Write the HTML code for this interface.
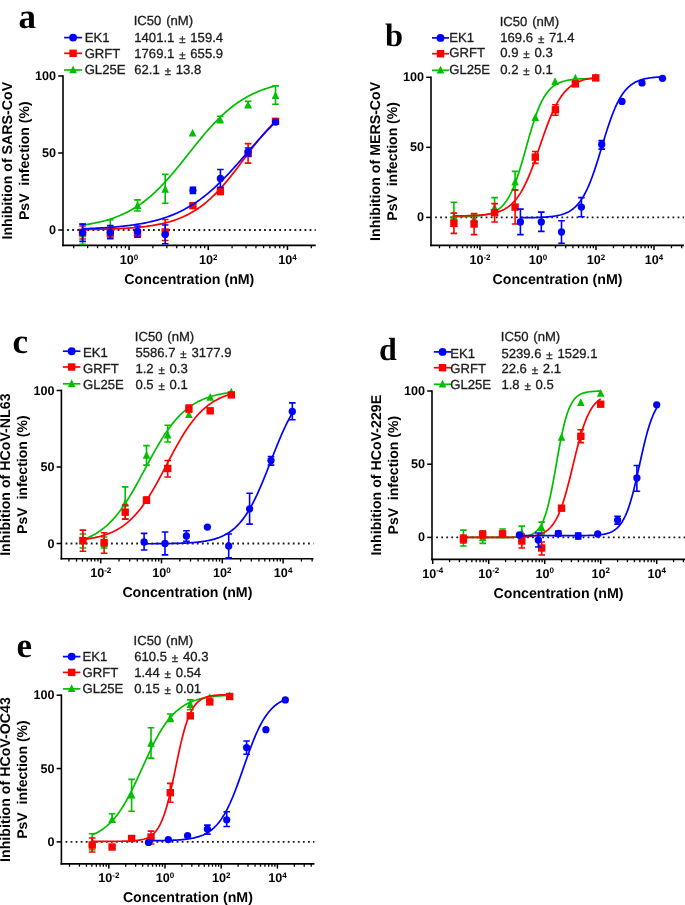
<!DOCTYPE html>
<html><head><meta charset="utf-8"><style>
html,body{margin:0;padding:0;background:#fff;}
text{text-rendering:geometricPrecision;}
svg{display:block;will-change:transform;}
.tk{font-family:"Liberation Sans", sans-serif;font-weight:bold;font-size:12.6px;fill:#000;}
.sup{font-size:8px;}
.yl{font-size:14.15px;}
.ttl{font-family:"Liberation Sans", sans-serif;font-weight:bold;font-size:14.2px;fill:#000;}
.lg{font-family:"Liberation Sans", sans-serif;font-size:13.1px;fill:#1a1a1a;stroke:#1a1a1a;stroke-width:0.3px;word-spacing:1.2px;}
.pm{font-size:11.5px;}
.let{font-family:"Liberation Serif", serif;font-weight:bold;fill:#000;}
</style></head><body>
<svg width="685" height="905" viewBox="0 0 685 905">
<line x1="63" y1="75.2" x2="63" y2="246.2" stroke="#000" stroke-width="1.6"/>
<line x1="58.2" y1="230" x2="63" y2="230" stroke="#000" stroke-width="1.5"/>
<text x="56" y="234" text-anchor="end" class="tk">0</text>
<line x1="58.2" y1="153" x2="63" y2="153" stroke="#000" stroke-width="1.5"/>
<text x="56" y="157" text-anchor="end" class="tk">50</text>
<line x1="58.2" y1="76" x2="63" y2="76" stroke="#000" stroke-width="1.5"/>
<text x="56" y="80" text-anchor="end" class="tk">100</text>
<line x1="62.2" y1="245.4" x2="315.7" y2="245.4" stroke="#000" stroke-width="1.6"/>
<line x1="73.69" y1="245.4" x2="73.69" y2="248.2" stroke="#000" stroke-width="1.3"/>
<line x1="87.64" y1="245.4" x2="87.64" y2="248.2" stroke="#000" stroke-width="1.3"/>
<line x1="97.53" y1="245.4" x2="97.53" y2="248.2" stroke="#000" stroke-width="1.3"/>
<line x1="105.21" y1="245.4" x2="105.21" y2="248.2" stroke="#000" stroke-width="1.3"/>
<line x1="111.48" y1="245.4" x2="111.48" y2="248.2" stroke="#000" stroke-width="1.3"/>
<line x1="116.78" y1="245.4" x2="116.78" y2="248.2" stroke="#000" stroke-width="1.3"/>
<line x1="121.37" y1="245.4" x2="121.37" y2="248.2" stroke="#000" stroke-width="1.3"/>
<line x1="125.43" y1="245.4" x2="125.43" y2="248.2" stroke="#000" stroke-width="1.3"/>
<line x1="129.05" y1="245.4" x2="129.05" y2="250" stroke="#000" stroke-width="1.5"/>
<text x="129.05" y="263.6" text-anchor="middle" class="tk">10<tspan class="sup" dy="-4.1">0</tspan></text>
<line x1="152.89" y1="245.4" x2="152.89" y2="248.2" stroke="#000" stroke-width="1.3"/>
<line x1="166.84" y1="245.4" x2="166.84" y2="248.2" stroke="#000" stroke-width="1.3"/>
<line x1="176.73" y1="245.4" x2="176.73" y2="248.2" stroke="#000" stroke-width="1.3"/>
<line x1="184.41" y1="245.4" x2="184.41" y2="248.2" stroke="#000" stroke-width="1.3"/>
<line x1="190.68" y1="245.4" x2="190.68" y2="248.2" stroke="#000" stroke-width="1.3"/>
<line x1="195.98" y1="245.4" x2="195.98" y2="248.2" stroke="#000" stroke-width="1.3"/>
<line x1="200.57" y1="245.4" x2="200.57" y2="248.2" stroke="#000" stroke-width="1.3"/>
<line x1="204.63" y1="245.4" x2="204.63" y2="248.2" stroke="#000" stroke-width="1.3"/>
<line x1="208.25" y1="245.4" x2="208.25" y2="250" stroke="#000" stroke-width="1.5"/>
<text x="208.25" y="263.6" text-anchor="middle" class="tk">10<tspan class="sup" dy="-4.1">2</tspan></text>
<line x1="232.09" y1="245.4" x2="232.09" y2="248.2" stroke="#000" stroke-width="1.3"/>
<line x1="246.04" y1="245.4" x2="246.04" y2="248.2" stroke="#000" stroke-width="1.3"/>
<line x1="255.93" y1="245.4" x2="255.93" y2="248.2" stroke="#000" stroke-width="1.3"/>
<line x1="263.61" y1="245.4" x2="263.61" y2="248.2" stroke="#000" stroke-width="1.3"/>
<line x1="269.88" y1="245.4" x2="269.88" y2="248.2" stroke="#000" stroke-width="1.3"/>
<line x1="275.18" y1="245.4" x2="275.18" y2="248.2" stroke="#000" stroke-width="1.3"/>
<line x1="279.77" y1="245.4" x2="279.77" y2="248.2" stroke="#000" stroke-width="1.3"/>
<line x1="283.83" y1="245.4" x2="283.83" y2="248.2" stroke="#000" stroke-width="1.3"/>
<line x1="287.45" y1="245.4" x2="287.45" y2="250" stroke="#000" stroke-width="1.5"/>
<text x="287.45" y="263.6" text-anchor="middle" class="tk">10<tspan class="sup" dy="-4.1">4</tspan></text>
<line x1="311.29" y1="245.4" x2="311.29" y2="248.2" stroke="#000" stroke-width="1.3"/>
<line x1="67.15" y1="230" x2="315.7" y2="230" stroke="#1a1a1a" stroke-width="1.8" stroke-dasharray="1.8 3.25"/>
<text x="189.35" y="283.9" text-anchor="middle" class="ttl">Concentration (nM)</text>
<text transform="translate(11.9,160.7) rotate(-90)" text-anchor="middle" class="ttl yl">Inhibition of SARS-CoV</text>
<text transform="translate(28.9,160.7) rotate(-90)" text-anchor="middle" class="ttl yl" style="word-spacing:0px;font-size:14.05px">PsV&#160; infection (%)</text>
<text x="18.6" y="28.1" class="let" font-size="35">a</text>
<line x1="64.1" y1="37.6" x2="82.1" y2="37.6" stroke="#0000ff" stroke-width="1.7"/>
<circle cx="73.1" cy="37.6" r="3.94" fill="#0000ff"/>
<text x="84.7" y="41.7" class="lg">EK1</text>
<text x="134.3" y="41.7" class="lg">1401.1 <tspan class="pm" dy="1.2">±</tspan><tspan dy="-1.2"> 159.4</tspan></text>
<line x1="64.1" y1="53.3" x2="82.1" y2="53.3" stroke="#ff0000" stroke-width="1.7"/>
<rect x="69.4" y="49.6" width="7.4" height="7.4" fill="#ff0000"/>
<text x="84.7" y="57.5" class="lg">GRFT</text>
<text x="134.3" y="57.5" class="lg">1769.1 <tspan class="pm" dy="1.2">±</tspan><tspan dy="-1.2"> 655.9</tspan></text>
<line x1="64.1" y1="70" x2="82.1" y2="70" stroke="#00bf00" stroke-width="1.7"/>
<path d="M73.1,65.4 L76.9,73.2 L69.3,73.2 Z" fill="#00bf00"/>
<text x="84.7" y="73.6" class="lg">GL25E</text>
<text x="134.3" y="73.6" class="lg">62.1 <tspan class="pm" dy="1.2">±</tspan><tspan dy="-1.2"> 13.8</tspan></text>
<text x="133.7" y="25.4" class="lg">IC50 (nM)</text>
<polyline points="82.6,225.14 83.89,224.96 85.17,224.77 86.46,224.57 87.74,224.37 89.03,224.15 90.32,223.93 91.6,223.7 92.89,223.46 94.17,223.21 95.46,222.94 96.75,222.67 98.03,222.39 99.32,222.1 100.6,221.79 101.89,221.47 103.18,221.14 104.46,220.8 105.75,220.45 107.03,220.08 108.32,219.69 109.61,219.29 110.89,218.88 112.18,218.45 113.46,218.01 114.75,217.55 116.04,217.07 117.32,216.57 118.61,216.06 119.89,215.52 121.18,214.97 122.47,214.4 123.75,213.81 125.04,213.2 126.32,212.57 127.61,211.92 128.9,211.24 130.18,210.54 131.47,209.82 132.75,209.08 134.04,208.31 135.33,207.52 136.61,206.7 137.9,205.86 139.18,204.99 140.47,204.1 141.76,203.19 143.04,202.24 144.33,201.27 145.61,200.28 146.9,199.25 148.19,198.2 149.47,197.13 150.76,196.02 152.04,194.89 153.33,193.74 154.62,192.55 155.9,191.34 157.19,190.11 158.47,188.85 159.76,187.56 161.05,186.25 162.33,184.91 163.62,183.55 164.9,182.17 166.19,180.76 167.48,179.34 168.76,177.89 170.05,176.42 171.33,174.93 172.62,173.43 173.91,171.91 175.19,170.37 176.48,168.82 177.76,167.25 179.05,165.67 180.34,164.09 181.62,162.49 182.91,160.88 184.19,159.27 185.48,157.65 186.77,156.03 188.05,154.41 189.34,152.79 190.62,151.16 191.91,149.54 193.2,147.93 194.48,146.31 195.77,144.71 197.05,143.11 198.34,141.53 199.63,139.95 200.91,138.39 202.2,136.84 203.48,135.3 204.77,133.78 206.06,132.28 207.34,130.79 208.63,129.33 209.91,127.88 211.2,126.46 212.49,125.06 213.77,123.68 215.06,122.32 216.34,120.99 217.63,119.68 218.92,118.39 220.2,117.14 221.49,115.9 222.77,114.7 224.06,113.52 225.35,112.37 226.63,111.24 227.92,110.14 229.2,109.07 230.49,108.02 231.78,107 233.06,106.01 234.35,105.04 235.63,104.1 236.92,103.19 238.21,102.3 239.49,101.44 240.78,100.6 242.06,99.78 243.35,99 244.64,98.23 245.92,97.49 247.21,96.77 248.49,96.08 249.78,95.41 251.07,94.76 252.35,94.13 253.64,93.52 254.92,92.93 256.21,92.36 257.5,91.81 258.78,91.28 260.07,90.77 261.35,90.28 262.64,89.8 263.93,89.34 265.21,88.9 266.5,88.47 267.78,88.06 269.07,87.67 270.36,87.28 271.64,86.92 272.93,86.56 274.21,86.22 275.5,85.89" fill="none" stroke="#00bf00" stroke-width="1.7"/>
<path d="M82.6,224V244.3M79.3,224H85.9M79.3,244.3H85.9" stroke="#00bf00" stroke-width="1.6" fill="none"/>
<path d="M82.6,229.4 L86.4,237.2 L78.8,237.2 Z" fill="#00bf00"/>
<path d="M110.3,219.8V238M107,219.8H113.6M107,238H113.6" stroke="#00bf00" stroke-width="1.6" fill="none"/>
<path d="M110.3,226.4 L114.1,234.2 L106.5,234.2 Z" fill="#00bf00"/>
<path d="M137.5,199.9V211M134.2,199.9H140.8M134.2,211H140.8" stroke="#00bf00" stroke-width="1.6" fill="none"/>
<path d="M137.5,201.2 L141.3,209 L133.7,209 Z" fill="#00bf00"/>
<path d="M165.2,174.3V203.3M161.9,174.3H168.5M161.9,203.3H168.5" stroke="#00bf00" stroke-width="1.6" fill="none"/>
<path d="M165.2,185 L169,192.8 L161.4,192.8 Z" fill="#00bf00"/>
<path d="M192.6,128.7 L196.4,136.5 L188.8,136.5 Z" fill="#00bf00"/>
<path d="M220.1,116.2V122.7M216.8,116.2H223.4M216.8,122.7H223.4" stroke="#00bf00" stroke-width="1.6" fill="none"/>
<path d="M220.1,115.2 L223.9,123 L216.3,123 Z" fill="#00bf00"/>
<path d="M248.1,101.4V107M244.8,101.4H251.4M244.8,107H251.4" stroke="#00bf00" stroke-width="1.6" fill="none"/>
<path d="M248.1,100.8 L251.9,108.6 L244.3,108.6 Z" fill="#00bf00"/>
<path d="M275.5,85.9V104.2M272.2,85.9H278.8M272.2,104.2H278.8" stroke="#00bf00" stroke-width="1.6" fill="none"/>
<path d="M275.5,91.3 L279.3,99.1 L271.7,99.1 Z" fill="#00bf00"/>
<polyline points="82.6,229.58 83.89,229.57 85.17,229.55 86.46,229.53 87.74,229.51 89.03,229.49 90.32,229.47 91.6,229.45 92.89,229.43 94.17,229.4 95.46,229.38 96.75,229.35 98.03,229.32 99.32,229.3 100.6,229.27 101.89,229.23 103.18,229.2 104.46,229.16 105.75,229.13 107.03,229.09 108.32,229.05 109.61,229.01 110.89,228.96 112.18,228.92 113.46,228.87 114.75,228.82 116.04,228.76 117.32,228.71 118.61,228.65 119.89,228.58 121.18,228.52 122.47,228.45 123.75,228.38 125.04,228.3 126.32,228.23 127.61,228.14 128.9,228.06 130.18,227.97 131.47,227.87 132.75,227.77 134.04,227.67 135.33,227.56 136.61,227.44 137.9,227.32 139.18,227.2 140.47,227.07 141.76,226.93 143.04,226.79 144.33,226.63 145.61,226.48 146.9,226.31 148.19,226.14 149.47,225.96 150.76,225.77 152.04,225.57 153.33,225.36 154.62,225.14 155.9,224.91 157.19,224.68 158.47,224.43 159.76,224.17 161.05,223.89 162.33,223.61 163.62,223.31 164.9,223 166.19,222.68 167.48,222.34 168.76,221.98 170.05,221.61 171.33,221.23 172.62,220.83 173.91,220.41 175.19,219.97 176.48,219.51 177.76,219.04 179.05,218.54 180.34,218.03 181.62,217.49 182.91,216.93 184.19,216.35 185.48,215.75 186.77,215.12 188.05,214.47 189.34,213.79 190.62,213.09 191.91,212.36 193.2,211.6 194.48,210.82 195.77,210.01 197.05,209.17 198.34,208.3 199.63,207.4 200.91,206.47 202.2,205.51 203.48,204.51 204.77,203.49 206.06,202.44 207.34,201.35 208.63,200.23 209.91,199.09 211.2,197.9 212.49,196.69 213.77,195.45 215.06,194.17 216.34,192.86 217.63,191.53 218.92,190.16 220.2,188.76 221.49,187.34 222.77,185.88 224.06,184.4 225.35,182.9 226.63,181.37 227.92,179.81 229.2,178.24 230.49,176.64 231.78,175.02 233.06,173.39 234.35,171.74 235.63,170.07 236.92,168.4 238.21,166.71 239.49,165.01 240.78,163.31 242.06,161.6 243.35,159.88 244.64,158.17 245.92,156.46 247.21,154.75 248.49,153.04 249.78,151.34 251.07,149.65 252.35,147.98 253.64,146.31 254.92,144.66 256.21,143.02 257.5,141.4 258.78,139.8 260.07,138.23 261.35,136.67 262.64,135.14 263.93,133.63 265.21,132.14 266.5,130.69 267.78,129.26 269.07,127.86 270.36,126.49 271.64,125.15 272.93,123.84 274.21,122.56 275.5,121.31" fill="none" stroke="#ff0000" stroke-width="1.7"/>
<path d="M82.6,226V239M79.3,226H85.9M79.3,239H85.9" stroke="#ff0000" stroke-width="1.6" fill="none"/>
<rect x="78.9" y="228.6" width="7.4" height="7.4" fill="#ff0000"/>
<path d="M110.3,228V237M107,228H113.6M107,237H113.6" stroke="#ff0000" stroke-width="1.6" fill="none"/>
<rect x="106.6" y="229.3" width="7.4" height="7.4" fill="#ff0000"/>
<path d="M137.5,229.5V236.5M134.2,229.5H140.8M134.2,236.5H140.8" stroke="#ff0000" stroke-width="1.6" fill="none"/>
<rect x="133.8" y="229.5" width="7.4" height="7.4" fill="#ff0000"/>
<path d="M165.2,219.5V240.5M161.9,219.5H168.5M161.9,240.5H168.5" stroke="#ff0000" stroke-width="1.6" fill="none"/>
<rect x="161.5" y="228.3" width="7.4" height="7.4" fill="#ff0000"/>
<rect x="189.2" y="202" width="7.4" height="7.4" fill="#ff0000"/>
<path d="M220.4,188V194.5M217.1,188H223.7M217.1,194.5H223.7" stroke="#ff0000" stroke-width="1.6" fill="none"/>
<rect x="216.7" y="187.7" width="7.4" height="7.4" fill="#ff0000"/>
<path d="M248.1,143.6V163.1M244.8,143.6H251.4M244.8,163.1H251.4" stroke="#ff0000" stroke-width="1.6" fill="none"/>
<rect x="244.4" y="149.9" width="7.4" height="7.4" fill="#ff0000"/>
<rect x="271.8" y="117.6" width="7.4" height="7.4" fill="#ff0000"/>
<polyline points="82.6,228.75 83.89,228.71 85.17,228.66 86.46,228.62 87.74,228.57 89.03,228.52 90.32,228.47 91.6,228.41 92.89,228.35 94.17,228.3 95.46,228.23 96.75,228.17 98.03,228.11 99.32,228.04 100.6,227.97 101.89,227.89 103.18,227.82 104.46,227.74 105.75,227.65 107.03,227.57 108.32,227.48 109.61,227.39 110.89,227.29 112.18,227.19 113.46,227.09 114.75,226.98 116.04,226.87 117.32,226.76 118.61,226.64 119.89,226.51 121.18,226.38 122.47,226.25 123.75,226.11 125.04,225.97 126.32,225.82 127.61,225.66 128.9,225.5 130.18,225.34 131.47,225.17 132.75,224.99 134.04,224.8 135.33,224.61 136.61,224.41 137.9,224.2 139.18,223.99 140.47,223.77 141.76,223.54 143.04,223.3 144.33,223.06 145.61,222.8 146.9,222.54 148.19,222.26 149.47,221.98 150.76,221.69 152.04,221.38 153.33,221.07 154.62,220.74 155.9,220.41 157.19,220.06 158.47,219.7 159.76,219.33 161.05,218.95 162.33,218.55 163.62,218.14 164.9,217.71 166.19,217.28 167.48,216.82 168.76,216.36 170.05,215.88 171.33,215.38 172.62,214.87 173.91,214.34 175.19,213.79 176.48,213.23 177.76,212.65 179.05,212.05 180.34,211.43 181.62,210.8 182.91,210.15 184.19,209.48 185.48,208.79 186.77,208.08 188.05,207.35 189.34,206.6 190.62,205.83 191.91,205.04 193.2,204.23 194.48,203.39 195.77,202.54 197.05,201.66 198.34,200.77 199.63,199.85 200.91,198.91 202.2,197.94 203.48,196.96 204.77,195.95 206.06,194.93 207.34,193.88 208.63,192.81 209.91,191.71 211.2,190.6 212.49,189.46 213.77,188.31 215.06,187.13 216.34,185.93 217.63,184.72 218.92,183.48 220.2,182.23 221.49,180.95 222.77,179.66 224.06,178.35 225.35,177.03 226.63,175.69 227.92,174.33 229.2,172.96 230.49,171.58 231.78,170.18 233.06,168.77 234.35,167.35 235.63,165.92 236.92,164.48 238.21,163.03 239.49,161.58 240.78,160.12 242.06,158.65 243.35,157.18 244.64,155.71 245.92,154.24 247.21,152.76 248.49,151.29 249.78,149.81 251.07,148.34 252.35,146.87 253.64,145.41 254.92,143.96 256.21,142.51 257.5,141.06 258.78,139.63 260.07,138.21 261.35,136.79 262.64,135.39 263.93,134 265.21,132.63 266.5,131.27 267.78,129.92 269.07,128.59 270.36,127.28 271.64,125.98 272.93,124.7 274.21,123.44 275.5,122.2" fill="none" stroke="#0000ff" stroke-width="1.7"/>
<path d="M82.6,224.1V241.4M79.3,224.1H85.9M79.3,241.4H85.9" stroke="#0000ff" stroke-width="1.6" fill="none"/>
<circle cx="82.6" cy="232.6" r="3.65" fill="#0000ff"/>
<path d="M110.3,225.6V238.8M107,225.6H113.6M107,238.8H113.6" stroke="#0000ff" stroke-width="1.6" fill="none"/>
<circle cx="110.3" cy="232.6" r="3.65" fill="#0000ff"/>
<path d="M137.5,226V237.3M134.2,226H140.8M134.2,237.3H140.8" stroke="#0000ff" stroke-width="1.6" fill="none"/>
<circle cx="137.5" cy="231.5" r="3.65" fill="#0000ff"/>
<path d="M165.2,225V243.8M161.9,225H168.5M161.9,243.8H168.5" stroke="#0000ff" stroke-width="1.6" fill="none"/>
<circle cx="165.2" cy="234.6" r="3.65" fill="#0000ff"/>
<path d="M192.9,187.3V193.5M189.6,187.3H196.2M189.6,193.5H196.2" stroke="#0000ff" stroke-width="1.6" fill="none"/>
<circle cx="192.9" cy="190.4" r="3.65" fill="#0000ff"/>
<path d="M220.4,169.5V187.4M217.1,169.5H223.7M217.1,187.4H223.7" stroke="#0000ff" stroke-width="1.6" fill="none"/>
<circle cx="220.4" cy="178.5" r="3.65" fill="#0000ff"/>
<path d="M248.1,148V156M244.8,148H251.4M244.8,156H251.4" stroke="#0000ff" stroke-width="1.6" fill="none"/>
<circle cx="248.1" cy="152" r="3.65" fill="#0000ff"/>
<circle cx="275.5" cy="122.1" r="3.65" fill="#0000ff"/>
<line x1="431" y1="76.5" x2="431" y2="246.22" stroke="#000" stroke-width="1.6"/>
<line x1="426.2" y1="217.4" x2="431" y2="217.4" stroke="#000" stroke-width="1.5"/>
<text x="424" y="221.4" text-anchor="end" class="tk">0</text>
<line x1="426.2" y1="147.35" x2="431" y2="147.35" stroke="#000" stroke-width="1.5"/>
<text x="424" y="151.35" text-anchor="end" class="tk">50</text>
<line x1="426.2" y1="77.3" x2="431" y2="77.3" stroke="#000" stroke-width="1.5"/>
<text x="424" y="81.3" text-anchor="end" class="tk">100</text>
<line x1="430.2" y1="245.42" x2="684" y2="245.42" stroke="#000" stroke-width="1.6"/>
<line x1="439.46" y1="245.42" x2="439.46" y2="248.22" stroke="#000" stroke-width="1.3"/>
<line x1="449.67" y1="245.42" x2="449.67" y2="248.22" stroke="#000" stroke-width="1.3"/>
<line x1="456.92" y1="245.42" x2="456.92" y2="248.22" stroke="#000" stroke-width="1.3"/>
<line x1="462.54" y1="245.42" x2="462.54" y2="248.22" stroke="#000" stroke-width="1.3"/>
<line x1="467.13" y1="245.42" x2="467.13" y2="248.22" stroke="#000" stroke-width="1.3"/>
<line x1="471.02" y1="245.42" x2="471.02" y2="248.22" stroke="#000" stroke-width="1.3"/>
<line x1="474.38" y1="245.42" x2="474.38" y2="248.22" stroke="#000" stroke-width="1.3"/>
<line x1="477.35" y1="245.42" x2="477.35" y2="248.22" stroke="#000" stroke-width="1.3"/>
<line x1="480" y1="245.42" x2="480" y2="250.02" stroke="#000" stroke-width="1.5"/>
<text x="480" y="263.62" text-anchor="middle" class="tk">10<tspan class="sup" dy="-4.1">-2</tspan></text>
<line x1="497.46" y1="245.42" x2="497.46" y2="248.22" stroke="#000" stroke-width="1.3"/>
<line x1="507.67" y1="245.42" x2="507.67" y2="248.22" stroke="#000" stroke-width="1.3"/>
<line x1="514.92" y1="245.42" x2="514.92" y2="248.22" stroke="#000" stroke-width="1.3"/>
<line x1="520.54" y1="245.42" x2="520.54" y2="248.22" stroke="#000" stroke-width="1.3"/>
<line x1="525.13" y1="245.42" x2="525.13" y2="248.22" stroke="#000" stroke-width="1.3"/>
<line x1="529.02" y1="245.42" x2="529.02" y2="248.22" stroke="#000" stroke-width="1.3"/>
<line x1="532.38" y1="245.42" x2="532.38" y2="248.22" stroke="#000" stroke-width="1.3"/>
<line x1="535.35" y1="245.42" x2="535.35" y2="248.22" stroke="#000" stroke-width="1.3"/>
<line x1="538" y1="245.42" x2="538" y2="250.02" stroke="#000" stroke-width="1.5"/>
<text x="538" y="263.62" text-anchor="middle" class="tk">10<tspan class="sup" dy="-4.1">0</tspan></text>
<line x1="555.46" y1="245.42" x2="555.46" y2="248.22" stroke="#000" stroke-width="1.3"/>
<line x1="565.67" y1="245.42" x2="565.67" y2="248.22" stroke="#000" stroke-width="1.3"/>
<line x1="572.92" y1="245.42" x2="572.92" y2="248.22" stroke="#000" stroke-width="1.3"/>
<line x1="578.54" y1="245.42" x2="578.54" y2="248.22" stroke="#000" stroke-width="1.3"/>
<line x1="583.13" y1="245.42" x2="583.13" y2="248.22" stroke="#000" stroke-width="1.3"/>
<line x1="587.02" y1="245.42" x2="587.02" y2="248.22" stroke="#000" stroke-width="1.3"/>
<line x1="590.38" y1="245.42" x2="590.38" y2="248.22" stroke="#000" stroke-width="1.3"/>
<line x1="593.35" y1="245.42" x2="593.35" y2="248.22" stroke="#000" stroke-width="1.3"/>
<line x1="596" y1="245.42" x2="596" y2="250.02" stroke="#000" stroke-width="1.5"/>
<text x="596" y="263.62" text-anchor="middle" class="tk">10<tspan class="sup" dy="-4.1">2</tspan></text>
<line x1="613.46" y1="245.42" x2="613.46" y2="248.22" stroke="#000" stroke-width="1.3"/>
<line x1="623.67" y1="245.42" x2="623.67" y2="248.22" stroke="#000" stroke-width="1.3"/>
<line x1="630.92" y1="245.42" x2="630.92" y2="248.22" stroke="#000" stroke-width="1.3"/>
<line x1="636.54" y1="245.42" x2="636.54" y2="248.22" stroke="#000" stroke-width="1.3"/>
<line x1="641.13" y1="245.42" x2="641.13" y2="248.22" stroke="#000" stroke-width="1.3"/>
<line x1="645.02" y1="245.42" x2="645.02" y2="248.22" stroke="#000" stroke-width="1.3"/>
<line x1="648.38" y1="245.42" x2="648.38" y2="248.22" stroke="#000" stroke-width="1.3"/>
<line x1="651.35" y1="245.42" x2="651.35" y2="248.22" stroke="#000" stroke-width="1.3"/>
<line x1="654" y1="245.42" x2="654" y2="250.02" stroke="#000" stroke-width="1.5"/>
<text x="654" y="263.62" text-anchor="middle" class="tk">10<tspan class="sup" dy="-4.1">4</tspan></text>
<line x1="671.46" y1="245.42" x2="671.46" y2="248.22" stroke="#000" stroke-width="1.3"/>
<line x1="681.67" y1="245.42" x2="681.67" y2="248.22" stroke="#000" stroke-width="1.3"/>
<line x1="435.15" y1="217.4" x2="684" y2="217.4" stroke="#1a1a1a" stroke-width="1.8" stroke-dasharray="1.8 3.25"/>
<text x="557.5" y="283.5" text-anchor="middle" class="ttl">Concentration (nM)</text>
<text transform="translate(379.9,161.36) rotate(-90)" text-anchor="middle" class="ttl yl">Inhibition of MERS-CoV</text>
<text transform="translate(396.9,161.36) rotate(-90)" text-anchor="middle" class="ttl yl" style="word-spacing:0px;font-size:14.05px">PsV&#160; infection (%)</text>
<text x="385" y="46" class="let" font-size="32.5">b</text>
<line x1="432" y1="37.9" x2="449" y2="37.9" stroke="#0000ff" stroke-width="1.7"/>
<circle cx="440.5" cy="37.9" r="3.94" fill="#0000ff"/>
<text x="449.3" y="41.7" class="lg">EK1</text>
<text x="500.3" y="41.7" class="lg">169.6 <tspan class="pm" dy="1.2">±</tspan><tspan dy="-1.2"> 71.4</tspan></text>
<line x1="432" y1="53.7" x2="449" y2="53.7" stroke="#ff0000" stroke-width="1.7"/>
<rect x="436.8" y="50" width="7.4" height="7.4" fill="#ff0000"/>
<text x="449.3" y="57" class="lg">GRFT</text>
<text x="500.3" y="57" class="lg">0.9 <tspan class="pm" dy="1.2">±</tspan><tspan dy="-1.2"> 0.3</tspan></text>
<line x1="432" y1="70.3" x2="449" y2="70.3" stroke="#00bf00" stroke-width="1.7"/>
<path d="M440.5,65.7 L444.3,73.5 L436.7,73.5 Z" fill="#00bf00"/>
<text x="449.3" y="73.6" class="lg">GL25E</text>
<text x="500.3" y="73.6" class="lg">0.2 <tspan class="pm" dy="1.2">±</tspan><tspan dy="-1.2"> 0.1</tspan></text>
<text x="499.7" y="25.5" class="lg">IC50 (nM)</text>
<polyline points="453.9,216.74 454.85,216.73 455.79,216.72 456.74,216.71 457.68,216.7 458.63,216.69 459.57,216.68 460.52,216.66 461.46,216.64 462.41,216.63 463.35,216.61 464.3,216.59 465.24,216.56 466.19,216.54 467.13,216.51 468.08,216.48 469.03,216.44 469.97,216.4 470.92,216.36 471.86,216.31 472.81,216.26 473.75,216.21 474.7,216.14 475.64,216.07 476.59,216 477.53,215.91 478.48,215.82 479.42,215.72 480.37,215.61 481.31,215.49 482.26,215.35 483.21,215.2 484.15,215.04 485.1,214.86 486.04,214.66 486.99,214.44 487.93,214.2 488.88,213.94 489.82,213.65 490.77,213.33 491.71,212.99 492.66,212.61 493.6,212.19 494.55,211.73 495.49,211.23 496.44,210.68 497.39,210.08 498.33,209.42 499.28,208.71 500.22,207.93 501.17,207.08 502.11,206.16 503.06,205.16 504,204.07 504.95,202.89 505.89,201.62 506.84,200.24 507.78,198.76 508.73,197.17 509.67,195.47 510.62,193.64 511.57,191.69 512.51,189.62 513.46,187.42 514.4,185.09 515.35,182.64 516.29,180.06 517.24,177.36 518.18,174.55 519.13,171.62 520.07,168.6 521.02,165.48 521.96,162.29 522.91,159.03 523.85,155.71 524.8,152.36 525.75,148.98 526.69,145.6 527.64,142.23 528.58,138.88 529.53,135.58 530.47,132.33 531.42,129.15 532.36,126.05 533.31,123.04 534.25,120.14 535.2,117.35 536.14,114.67 537.09,112.12 538.03,109.69 538.98,107.39 539.93,105.21 540.87,103.16 541.82,101.24 542.76,99.43 543.71,97.75 544.65,96.18 545.6,94.72 546.54,93.37 547.49,92.11 548.43,90.95 549.38,89.88 550.32,88.9 551.27,87.99 552.21,87.15 553.16,86.39 554.11,85.68 555.05,85.04 556,84.45 556.94,83.91 557.89,83.42 558.83,82.97 559.78,82.56 560.72,82.18 561.67,81.84 562.61,81.53 563.56,81.25 564.5,80.99 565.45,80.75 566.39,80.54 567.34,80.34 568.29,80.17 569.23,80.01 570.18,79.86 571.12,79.73 572.07,79.61 573.01,79.5 573.96,79.4 574.9,79.31 575.85,79.23 576.79,79.15 577.74,79.08 578.68,79.02 579.63,78.97 580.57,78.92 581.52,78.87 582.47,78.83 583.41,78.79 584.36,78.76 585.3,78.73 586.25,78.7 587.19,78.67 588.14,78.65 589.08,78.63 590.03,78.61 590.97,78.59 591.92,78.57 592.86,78.56 593.81,78.55 594.75,78.54 595.7,78.53" fill="none" stroke="#00bf00" stroke-width="1.7"/>
<path d="M453.9,202.2V217M450.6,202.2H457.2M450.6,217H457.2" stroke="#00bf00" stroke-width="1.6" fill="none"/>
<path d="M453.9,212.4 L457.7,220.2 L450.1,220.2 Z" fill="#00bf00"/>
<path d="M474.1,215V222M470.8,215H477.4M470.8,222H477.4" stroke="#00bf00" stroke-width="1.6" fill="none"/>
<path d="M474.1,214.4 L477.9,222.2 L470.3,222.2 Z" fill="#00bf00"/>
<path d="M494.6,197.6V211M491.3,197.6H497.9M491.3,211H497.9" stroke="#00bf00" stroke-width="1.6" fill="none"/>
<path d="M494.6,203.5 L498.4,211.3 L490.8,211.3 Z" fill="#00bf00"/>
<path d="M515.1,171.4V190.3M511.8,171.4H518.4M511.8,190.3H518.4" stroke="#00bf00" stroke-width="1.6" fill="none"/>
<path d="M515.1,177.7 L518.9,185.5 L511.3,185.5 Z" fill="#00bf00"/>
<path d="M535.3,113.1 L539.1,120.9 L531.5,120.9 Z" fill="#00bf00"/>
<path d="M555.1,77.3 L558.9,85.1 L551.3,85.1 Z" fill="#00bf00"/>
<path d="M575.4,73.7 L579.2,81.5 L571.6,81.5 Z" fill="#00bf00"/>
<path d="M595.7,72.9 L599.5,80.7 L591.9,80.7 Z" fill="#00bf00"/>
<polyline points="453.9,215.93 454.85,215.92 455.79,215.91 456.74,215.9 457.68,215.89 458.63,215.88 459.57,215.87 460.52,215.85 461.46,215.84 462.41,215.82 463.35,215.8 464.3,215.79 465.24,215.77 466.19,215.74 467.13,215.72 468.08,215.69 469.03,215.66 469.97,215.63 470.92,215.6 471.86,215.57 472.81,215.53 473.75,215.49 474.7,215.44 475.64,215.39 476.59,215.34 477.53,215.28 478.48,215.22 479.42,215.15 480.37,215.08 481.31,215 482.26,214.92 483.21,214.83 484.15,214.73 485.1,214.62 486.04,214.51 486.99,214.38 487.93,214.25 488.88,214.1 489.82,213.94 490.77,213.77 491.71,213.59 492.66,213.39 493.6,213.18 494.55,212.95 495.49,212.7 496.44,212.44 497.39,212.15 498.33,211.84 499.28,211.5 500.22,211.14 501.17,210.76 502.11,210.34 503.06,209.89 504,209.41 504.95,208.89 505.89,208.33 506.84,207.74 507.78,207.1 508.73,206.41 509.67,205.68 510.62,204.89 511.57,204.06 512.51,203.16 513.46,202.21 514.4,201.19 515.35,200.1 516.29,198.95 517.24,197.73 518.18,196.44 519.13,195.06 520.07,193.61 521.02,192.09 521.96,190.47 522.91,188.78 523.85,187 524.8,185.14 525.75,183.2 526.69,181.17 527.64,179.06 528.58,176.87 529.53,174.6 530.47,172.26 531.42,169.85 532.36,167.37 533.31,164.83 534.25,162.24 535.2,159.6 536.14,156.92 537.09,154.21 538.03,151.48 538.98,148.72 539.93,145.97 540.87,143.21 541.82,140.46 542.76,137.73 543.71,135.02 544.65,132.35 545.6,129.72 546.54,127.14 547.49,124.62 548.43,122.15 549.38,119.76 550.32,117.43 551.27,115.18 552.21,113.01 553.16,110.91 554.11,108.9 555.05,106.97 556,105.13 556.94,103.37 557.89,101.69 558.83,100.1 559.78,98.59 560.72,97.16 561.67,95.8 562.61,94.52 563.56,93.31 564.5,92.18 565.45,91.11 566.39,90.11 567.34,89.16 568.29,88.28 569.23,87.45 570.18,86.68 571.12,85.96 572.07,85.28 573.01,84.65 573.96,84.06 574.9,83.52 575.85,83.01 576.79,82.53 577.74,82.09 578.68,81.68 579.63,81.3 580.57,80.94 581.52,80.61 582.47,80.31 583.41,80.02 584.36,79.76 585.3,79.52 586.25,79.29 587.19,79.08 588.14,78.89 589.08,78.71 590.03,78.54 590.97,78.39 591.92,78.24 592.86,78.11 593.81,77.99 594.75,77.88 595.7,77.77" fill="none" stroke="#ff0000" stroke-width="1.7"/>
<path d="M453.9,213.1V233.4M450.6,213.1H457.2M450.6,233.4H457.2" stroke="#ff0000" stroke-width="1.6" fill="none"/>
<rect x="450.2" y="219.7" width="7.4" height="7.4" fill="#ff0000"/>
<path d="M474.1,213.5V234.6M470.8,213.5H477.4M470.8,234.6H477.4" stroke="#ff0000" stroke-width="1.6" fill="none"/>
<rect x="470.4" y="220.3" width="7.4" height="7.4" fill="#ff0000"/>
<path d="M494.6,203.6V222M491.3,203.6H497.9M491.3,222H497.9" stroke="#ff0000" stroke-width="1.6" fill="none"/>
<rect x="490.9" y="209" width="7.4" height="7.4" fill="#ff0000"/>
<path d="M515.1,189.7V224M511.8,189.7H518.4M511.8,224H518.4" stroke="#ff0000" stroke-width="1.6" fill="none"/>
<rect x="511.4" y="203.4" width="7.4" height="7.4" fill="#ff0000"/>
<path d="M535.3,151.5V163.4M532,151.5H538.6M532,163.4H538.6" stroke="#ff0000" stroke-width="1.6" fill="none"/>
<rect x="531.6" y="153.4" width="7.4" height="7.4" fill="#ff0000"/>
<path d="M555.4,104.8V115.3M552.1,104.8H558.7M552.1,115.3H558.7" stroke="#ff0000" stroke-width="1.6" fill="none"/>
<rect x="551.7" y="106.1" width="7.4" height="7.4" fill="#ff0000"/>
<rect x="571.7" y="80.2" width="7.4" height="7.4" fill="#ff0000"/>
<rect x="592" y="74.2" width="7.4" height="7.4" fill="#ff0000"/>
<polyline points="520.4,217.73 521.35,217.72 522.29,217.72 523.24,217.71 524.19,217.7 525.14,217.69 526.08,217.68 527.03,217.67 527.98,217.66 528.93,217.65 529.87,217.63 530.82,217.62 531.77,217.6 532.72,217.58 533.66,217.56 534.61,217.54 535.56,217.51 536.5,217.49 537.45,217.46 538.4,217.43 539.35,217.39 540.29,217.36 541.24,217.31 542.19,217.27 543.14,217.22 544.08,217.17 545.03,217.11 545.98,217.04 546.93,216.97 547.87,216.9 548.82,216.82 549.77,216.72 550.71,216.63 551.66,216.52 552.61,216.4 553.56,216.27 554.5,216.13 555.45,215.98 556.4,215.81 557.35,215.63 558.29,215.43 559.24,215.21 560.19,214.98 561.14,214.72 562.08,214.44 563.03,214.14 563.98,213.81 564.92,213.45 565.87,213.06 566.82,212.64 567.77,212.18 568.71,211.68 569.66,211.14 570.61,210.55 571.56,209.92 572.5,209.23 573.45,208.49 574.4,207.68 575.35,206.82 576.29,205.88 577.24,204.88 578.19,203.8 579.13,202.64 580.08,201.39 581.03,200.06 581.98,198.64 582.92,197.12 583.87,195.5 584.82,193.78 585.77,191.96 586.71,190.03 587.66,188 588.61,185.86 589.56,183.61 590.5,181.25 591.45,178.8 592.4,176.24 593.34,173.59 594.29,170.85 595.24,168.02 596.19,165.12 597.13,162.16 598.08,159.14 599.03,156.07 599.98,152.96 600.92,149.84 601.87,146.7 602.82,143.57 603.77,140.44 604.71,137.35 605.66,134.29 606.61,131.28 607.55,128.33 608.5,125.45 609.45,122.64 610.4,119.92 611.34,117.3 612.29,114.76 613.24,112.33 614.19,110 615.13,107.78 616.08,105.67 617.03,103.66 617.98,101.76 618.92,99.96 619.87,98.27 620.82,96.67 621.76,95.18 622.71,93.78 623.66,92.47 624.61,91.25 625.55,90.11 626.5,89.04 627.45,88.06 628.4,87.14 629.34,86.29 630.29,85.5 631.24,84.77 632.19,84.1 633.13,83.48 634.08,82.9 635.03,82.37 635.97,81.88 636.92,81.43 637.87,81.01 638.82,80.63 639.76,80.28 640.71,79.96 641.66,79.66 642.61,79.39 643.55,79.14 644.5,78.91 645.45,78.69 646.4,78.5 647.34,78.32 648.29,78.16 649.24,78.01 650.18,77.87 651.13,77.75 652.08,77.63 653.03,77.53 653.97,77.43 654.92,77.34 655.87,77.26 656.82,77.18 657.76,77.12 658.71,77.05 659.66,77 660.61,76.94 661.55,76.9 662.5,76.85" fill="none" stroke="#0000ff" stroke-width="1.7"/>
<path d="M520.4,209.1V234.6M517.1,209.1H523.7M517.1,234.6H523.7" stroke="#0000ff" stroke-width="1.6" fill="none"/>
<circle cx="520.4" cy="222" r="3.65" fill="#0000ff"/>
<path d="M541.3,212.1V231.4M538,212.1H544.6M538,231.4H544.6" stroke="#0000ff" stroke-width="1.6" fill="none"/>
<circle cx="541.3" cy="222" r="3.65" fill="#0000ff"/>
<path d="M561.5,220.7V243.3M558.2,220.7H564.8M558.2,243.3H564.8" stroke="#0000ff" stroke-width="1.6" fill="none"/>
<circle cx="561.5" cy="232" r="3.65" fill="#0000ff"/>
<path d="M581.4,197.6V216.7M578.1,197.6H584.7M578.1,216.7H584.7" stroke="#0000ff" stroke-width="1.6" fill="none"/>
<circle cx="581.4" cy="207.1" r="3.65" fill="#0000ff"/>
<path d="M601.7,140.6V149.1M598.4,140.6H605M598.4,149.1H605" stroke="#0000ff" stroke-width="1.6" fill="none"/>
<circle cx="601.7" cy="144.5" r="3.65" fill="#0000ff"/>
<circle cx="622" cy="101.4" r="3.65" fill="#0000ff"/>
<circle cx="642" cy="82.9" r="3.65" fill="#0000ff"/>
<circle cx="662.5" cy="78.3" r="3.65" fill="#0000ff"/>
<line x1="61.4" y1="389.7" x2="61.4" y2="559.6" stroke="#000" stroke-width="1.6"/>
<line x1="56.6" y1="543.5" x2="61.4" y2="543.5" stroke="#000" stroke-width="1.5"/>
<text x="54.4" y="547.5" text-anchor="end" class="tk">0</text>
<line x1="56.6" y1="467" x2="61.4" y2="467" stroke="#000" stroke-width="1.5"/>
<text x="54.4" y="471" text-anchor="end" class="tk">50</text>
<line x1="56.6" y1="390.5" x2="61.4" y2="390.5" stroke="#000" stroke-width="1.5"/>
<text x="54.4" y="394.5" text-anchor="end" class="tk">100</text>
<line x1="60.6" y1="558.8" x2="313.4" y2="558.8" stroke="#000" stroke-width="1.6"/>
<line x1="68.91" y1="558.8" x2="68.91" y2="561.6" stroke="#000" stroke-width="1.3"/>
<line x1="76.51" y1="558.8" x2="76.51" y2="561.6" stroke="#000" stroke-width="1.3"/>
<line x1="82.4" y1="558.8" x2="82.4" y2="561.6" stroke="#000" stroke-width="1.3"/>
<line x1="87.21" y1="558.8" x2="87.21" y2="561.6" stroke="#000" stroke-width="1.3"/>
<line x1="91.28" y1="558.8" x2="91.28" y2="561.6" stroke="#000" stroke-width="1.3"/>
<line x1="94.81" y1="558.8" x2="94.81" y2="561.6" stroke="#000" stroke-width="1.3"/>
<line x1="97.92" y1="558.8" x2="97.92" y2="561.6" stroke="#000" stroke-width="1.3"/>
<line x1="100.7" y1="558.8" x2="100.7" y2="563.4" stroke="#000" stroke-width="1.5"/>
<text x="100.7" y="577" text-anchor="middle" class="tk">10<tspan class="sup" dy="-4.1">-2</tspan></text>
<line x1="119" y1="558.8" x2="119" y2="561.6" stroke="#000" stroke-width="1.3"/>
<line x1="129.71" y1="558.8" x2="129.71" y2="561.6" stroke="#000" stroke-width="1.3"/>
<line x1="137.31" y1="558.8" x2="137.31" y2="561.6" stroke="#000" stroke-width="1.3"/>
<line x1="143.2" y1="558.8" x2="143.2" y2="561.6" stroke="#000" stroke-width="1.3"/>
<line x1="148.01" y1="558.8" x2="148.01" y2="561.6" stroke="#000" stroke-width="1.3"/>
<line x1="152.08" y1="558.8" x2="152.08" y2="561.6" stroke="#000" stroke-width="1.3"/>
<line x1="155.61" y1="558.8" x2="155.61" y2="561.6" stroke="#000" stroke-width="1.3"/>
<line x1="158.72" y1="558.8" x2="158.72" y2="561.6" stroke="#000" stroke-width="1.3"/>
<line x1="161.5" y1="558.8" x2="161.5" y2="563.4" stroke="#000" stroke-width="1.5"/>
<text x="161.5" y="577" text-anchor="middle" class="tk">10<tspan class="sup" dy="-4.1">0</tspan></text>
<line x1="179.8" y1="558.8" x2="179.8" y2="561.6" stroke="#000" stroke-width="1.3"/>
<line x1="190.51" y1="558.8" x2="190.51" y2="561.6" stroke="#000" stroke-width="1.3"/>
<line x1="198.11" y1="558.8" x2="198.11" y2="561.6" stroke="#000" stroke-width="1.3"/>
<line x1="204" y1="558.8" x2="204" y2="561.6" stroke="#000" stroke-width="1.3"/>
<line x1="208.81" y1="558.8" x2="208.81" y2="561.6" stroke="#000" stroke-width="1.3"/>
<line x1="212.88" y1="558.8" x2="212.88" y2="561.6" stroke="#000" stroke-width="1.3"/>
<line x1="216.41" y1="558.8" x2="216.41" y2="561.6" stroke="#000" stroke-width="1.3"/>
<line x1="219.52" y1="558.8" x2="219.52" y2="561.6" stroke="#000" stroke-width="1.3"/>
<line x1="222.3" y1="558.8" x2="222.3" y2="563.4" stroke="#000" stroke-width="1.5"/>
<text x="222.3" y="577" text-anchor="middle" class="tk">10<tspan class="sup" dy="-4.1">2</tspan></text>
<line x1="240.6" y1="558.8" x2="240.6" y2="561.6" stroke="#000" stroke-width="1.3"/>
<line x1="251.31" y1="558.8" x2="251.31" y2="561.6" stroke="#000" stroke-width="1.3"/>
<line x1="258.91" y1="558.8" x2="258.91" y2="561.6" stroke="#000" stroke-width="1.3"/>
<line x1="264.8" y1="558.8" x2="264.8" y2="561.6" stroke="#000" stroke-width="1.3"/>
<line x1="269.61" y1="558.8" x2="269.61" y2="561.6" stroke="#000" stroke-width="1.3"/>
<line x1="273.68" y1="558.8" x2="273.68" y2="561.6" stroke="#000" stroke-width="1.3"/>
<line x1="277.21" y1="558.8" x2="277.21" y2="561.6" stroke="#000" stroke-width="1.3"/>
<line x1="280.32" y1="558.8" x2="280.32" y2="561.6" stroke="#000" stroke-width="1.3"/>
<line x1="283.1" y1="558.8" x2="283.1" y2="563.4" stroke="#000" stroke-width="1.5"/>
<text x="283.1" y="577" text-anchor="middle" class="tk">10<tspan class="sup" dy="-4.1">4</tspan></text>
<line x1="301.4" y1="558.8" x2="301.4" y2="561.6" stroke="#000" stroke-width="1.3"/>
<line x1="312.11" y1="558.8" x2="312.11" y2="561.6" stroke="#000" stroke-width="1.3"/>
<line x1="65.55" y1="543.5" x2="313.4" y2="543.5" stroke="#1a1a1a" stroke-width="1.8" stroke-dasharray="1.8 3.25"/>
<text x="187.4" y="596.5" text-anchor="middle" class="ttl">Concentration (nM)</text>
<text transform="translate(10.3,474.65) rotate(-90)" text-anchor="middle" class="ttl yl">Inhibition of HCoV-NL63</text>
<text transform="translate(27.3,474.65) rotate(-90)" text-anchor="middle" class="ttl yl" style="word-spacing:0px;font-size:14.05px">PsV&#160; infection (%)</text>
<text x="12.5" y="353.3" class="let" font-size="35">c</text>
<line x1="62.9" y1="351.2" x2="80.4" y2="351.2" stroke="#0000ff" stroke-width="1.7"/>
<circle cx="71.65" cy="351.2" r="3.94" fill="#0000ff"/>
<text x="83" y="357.2" class="lg">EK1</text>
<text x="135.4" y="357.2" class="lg">5586.7 <tspan class="pm" dy="1.2">±</tspan><tspan dy="-1.2"> 3177.9</tspan></text>
<line x1="62.9" y1="367" x2="80.4" y2="367" stroke="#ff0000" stroke-width="1.7"/>
<rect x="67.95" y="363.3" width="7.4" height="7.4" fill="#ff0000"/>
<text x="83" y="372.6" class="lg">GRFT</text>
<text x="135.4" y="372.6" class="lg">1.2 <tspan class="pm" dy="1.2">±</tspan><tspan dy="-1.2"> 0.3</tspan></text>
<line x1="62.9" y1="383.8" x2="80.4" y2="383.8" stroke="#00bf00" stroke-width="1.7"/>
<path d="M71.65,379.2 L75.45,387 L67.85,387 Z" fill="#00bf00"/>
<text x="83" y="388.9" class="lg">GL25E</text>
<text x="135.4" y="388.9" class="lg">0.5 <tspan class="pm" dy="1.2">±</tspan><tspan dy="-1.2"> 0.1</tspan></text>
<text x="134.8" y="340.7" class="lg">IC50 (nM)</text>
<polyline points="82.9,539.66 83.89,539.3 84.88,538.93 85.87,538.55 86.86,538.15 87.85,537.73 88.84,537.29 89.83,536.84 90.81,536.37 91.8,535.87 92.79,535.36 93.78,534.83 94.77,534.27 95.76,533.7 96.75,533.1 97.74,532.47 98.73,531.83 99.72,531.15 100.71,530.45 101.7,529.73 102.69,528.98 103.68,528.2 104.67,527.39 105.65,526.55 106.64,525.69 107.63,524.79 108.62,523.87 109.61,522.91 110.6,521.92 111.59,520.9 112.58,519.85 113.57,518.76 114.56,517.64 115.55,516.49 116.54,515.3 117.53,514.08 118.52,512.83 119.51,511.55 120.49,510.23 121.48,508.87 122.47,507.49 123.46,506.07 124.45,504.62 125.44,503.14 126.43,501.62 127.42,500.08 128.41,498.51 129.4,496.91 130.39,495.28 131.38,493.63 132.37,491.95 133.36,490.25 134.35,488.52 135.33,486.78 136.32,485.01 137.31,483.23 138.3,481.43 139.29,479.62 140.28,477.8 141.27,475.97 142.26,474.13 143.25,472.28 144.24,470.43 145.23,468.58 146.22,466.72 147.21,464.87 148.2,463.03 149.19,461.19 150.17,459.35 151.16,457.53 152.15,455.72 153.14,453.92 154.13,452.14 155.12,450.38 156.11,448.64 157.1,446.91 158.09,445.21 159.08,443.54 160.07,441.88 161.06,440.26 162.05,438.66 163.04,437.09 164.03,435.55 165.01,434.04 166,432.56 166.99,431.11 167.98,429.69 168.97,428.31 169.96,426.96 170.95,425.64 171.94,424.35 172.93,423.1 173.92,421.89 174.91,420.7 175.9,419.55 176.89,418.44 177.88,417.35 178.87,416.3 179.85,415.28 180.84,414.29 181.83,413.34 182.82,412.41 183.81,411.52 184.8,410.66 185.79,409.82 186.78,409.02 187.77,408.24 188.76,407.49 189.75,406.77 190.74,406.07 191.73,405.4 192.72,404.75 193.71,404.13 194.69,403.53 195.68,402.96 196.67,402.4 197.66,401.87 198.65,401.36 199.64,400.87 200.63,400.4 201.62,399.94 202.61,399.51 203.6,399.09 204.59,398.69 205.58,398.31 206.57,397.94 207.56,397.59 208.55,397.25 209.53,396.92 210.52,396.61 211.51,396.32 212.5,396.03 213.49,395.76 214.48,395.5 215.47,395.25 216.46,395.01 217.45,394.78 218.44,394.56 219.43,394.35 220.42,394.15 221.41,393.96 222.4,393.78 223.39,393.6 224.37,393.43 225.36,393.27 226.35,393.12 227.34,392.97 228.33,392.83 229.32,392.7 230.31,392.57 231.3,392.45" fill="none" stroke="#00bf00" stroke-width="1.7"/>
<path d="M82.9,534V548M79.6,534H86.2M79.6,548H86.2" stroke="#00bf00" stroke-width="1.6" fill="none"/>
<path d="M82.9,536.4 L86.7,544.2 L79.1,544.2 Z" fill="#00bf00"/>
<path d="M104.1,537V548M100.8,537H107.4M100.8,548H107.4" stroke="#00bf00" stroke-width="1.6" fill="none"/>
<path d="M104.1,539.4 L107.9,547.2 L100.3,547.2 Z" fill="#00bf00"/>
<path d="M125.2,486.9V519.1M121.9,486.9H128.5M121.9,519.1H128.5" stroke="#00bf00" stroke-width="1.6" fill="none"/>
<path d="M125.2,499 L129,506.8 L121.4,506.8 Z" fill="#00bf00"/>
<path d="M146.5,445.6V465.1M143.2,445.6H149.8M143.2,465.1H149.8" stroke="#00bf00" stroke-width="1.6" fill="none"/>
<path d="M146.5,450.9 L150.3,458.7 L142.7,458.7 Z" fill="#00bf00"/>
<path d="M167.7,425.3V442M164.4,425.3H171M164.4,442H171" stroke="#00bf00" stroke-width="1.6" fill="none"/>
<path d="M167.7,430.7 L171.5,438.5 L163.9,438.5 Z" fill="#00bf00"/>
<path d="M188.9,410.2 L192.7,418 L185.1,418 Z" fill="#00bf00"/>
<path d="M210.2,392.9 L214,400.7 L206.4,400.7 Z" fill="#00bf00"/>
<path d="M231.3,387.7 L235.1,395.5 L227.5,395.5 Z" fill="#00bf00"/>
<polyline points="82.9,539.46 83.89,539.34 84.88,539.22 85.87,539.09 86.86,538.95 87.85,538.81 88.84,538.66 89.83,538.5 90.81,538.34 91.8,538.17 92.79,537.99 93.78,537.8 94.77,537.6 95.76,537.39 96.75,537.18 97.74,536.95 98.73,536.71 99.72,536.46 100.71,536.2 101.7,535.93 102.69,535.64 103.68,535.34 104.67,535.03 105.65,534.7 106.64,534.36 107.63,534 108.62,533.63 109.61,533.24 110.6,532.83 111.59,532.41 112.58,531.96 113.57,531.5 114.56,531.01 115.55,530.51 116.54,529.98 117.53,529.43 118.52,528.86 119.51,528.27 120.49,527.65 121.48,527 122.47,526.33 123.46,525.63 124.45,524.9 125.44,524.15 126.43,523.36 127.42,522.55 128.41,521.7 129.4,520.83 130.39,519.92 131.38,518.98 132.37,518.01 133.36,517 134.35,515.96 135.33,514.89 136.32,513.78 137.31,512.63 138.3,511.45 139.29,510.24 140.28,508.98 141.27,507.7 142.26,506.37 143.25,505.01 144.24,503.62 145.23,502.19 146.22,500.73 147.21,499.23 148.2,497.7 149.19,496.14 150.17,494.54 151.16,492.92 152.15,491.27 153.14,489.58 154.13,487.88 155.12,486.14 156.11,484.39 157.1,482.61 158.09,480.81 159.08,478.99 160.07,477.15 161.06,475.31 162.05,473.44 163.04,471.57 164.03,469.69 165.01,467.81 166,465.92 166.99,464.03 167.98,462.14 168.97,460.26 169.96,458.38 170.95,456.51 171.94,454.65 172.93,452.8 173.92,450.96 174.91,449.14 175.9,447.34 176.89,445.56 177.88,443.8 178.87,442.07 179.85,440.36 180.84,438.68 181.83,437.02 182.82,435.4 183.81,433.8 184.8,432.24 185.79,430.7 186.78,429.21 187.77,427.74 188.76,426.31 189.75,424.92 190.74,423.56 191.73,422.23 192.72,420.94 193.71,419.69 194.69,418.47 195.68,417.29 196.67,416.14 197.66,415.03 198.65,413.95 199.64,412.91 200.63,411.9 201.62,410.93 202.61,409.99 203.6,409.08 204.59,408.2 205.58,407.36 206.57,406.54 207.56,405.76 208.55,405 209.53,404.27 210.52,403.57 211.51,402.9 212.5,402.25 213.49,401.63 214.48,401.03 215.47,400.46 216.46,399.91 217.45,399.38 218.44,398.88 219.43,398.39 220.42,397.93 221.41,397.48 222.4,397.06 223.39,396.65 224.37,396.26 225.36,395.88 226.35,395.52 227.34,395.18 228.33,394.85 229.32,394.54 230.31,394.24 231.3,393.95" fill="none" stroke="#ff0000" stroke-width="1.7"/>
<path d="M82.9,530.1V551.3M79.6,530.1H86.2M79.6,551.3H86.2" stroke="#ff0000" stroke-width="1.6" fill="none"/>
<rect x="79.2" y="536.9" width="7.4" height="7.4" fill="#ff0000"/>
<path d="M104.1,532.7V553.3M100.8,532.7H107.4M100.8,553.3H107.4" stroke="#ff0000" stroke-width="1.6" fill="none"/>
<rect x="100.4" y="538.9" width="7.4" height="7.4" fill="#ff0000"/>
<path d="M125.2,505V519.1M121.9,505H128.5M121.9,519.1H128.5" stroke="#ff0000" stroke-width="1.6" fill="none"/>
<rect x="121.5" y="508.5" width="7.4" height="7.4" fill="#ff0000"/>
<path d="M146.5,497V503M143.2,497H149.8M143.2,503H149.8" stroke="#ff0000" stroke-width="1.6" fill="none"/>
<rect x="142.8" y="496.6" width="7.4" height="7.4" fill="#ff0000"/>
<path d="M167.7,460.5V477M164.4,460.5H171M164.4,477H171" stroke="#ff0000" stroke-width="1.6" fill="none"/>
<rect x="164" y="464.8" width="7.4" height="7.4" fill="#ff0000"/>
<path d="M188.9,405V412M185.6,405H192.2M185.6,412H192.2" stroke="#ff0000" stroke-width="1.6" fill="none"/>
<rect x="185.2" y="405.1" width="7.4" height="7.4" fill="#ff0000"/>
<rect x="206.5" y="407.1" width="7.4" height="7.4" fill="#ff0000"/>
<rect x="227.6" y="391.2" width="7.4" height="7.4" fill="#ff0000"/>
<polyline points="144.1,543.78 145.09,543.77 146.08,543.77 147.06,543.77 148.05,543.76 149.04,543.76 150.03,543.75 151.02,543.75 152,543.74 152.99,543.73 153.98,543.73 154.97,543.72 155.96,543.71 156.94,543.7 157.93,543.69 158.92,543.69 159.91,543.68 160.9,543.66 161.88,543.65 162.87,543.64 163.86,543.63 164.85,543.62 165.84,543.6 166.82,543.59 167.81,543.57 168.8,543.55 169.79,543.54 170.78,543.52 171.76,543.5 172.75,543.47 173.74,543.45 174.73,543.43 175.72,543.4 176.7,543.37 177.69,543.34 178.68,543.31 179.67,543.28 180.66,543.24 181.64,543.2 182.63,543.16 183.62,543.12 184.61,543.08 185.6,543.03 186.58,542.98 187.57,542.92 188.56,542.86 189.55,542.8 190.54,542.74 191.52,542.67 192.51,542.59 193.5,542.51 194.49,542.43 195.48,542.34 196.46,542.25 197.45,542.15 198.44,542.04 199.43,541.93 200.42,541.81 201.4,541.68 202.39,541.55 203.38,541.4 204.37,541.25 205.36,541.09 206.34,540.92 207.33,540.73 208.32,540.54 209.31,540.34 210.3,540.12 211.28,539.89 212.27,539.64 213.26,539.38 214.25,539.11 215.24,538.82 216.22,538.51 217.21,538.18 218.2,537.83 219.19,537.47 220.18,537.08 221.16,536.67 222.15,536.23 223.14,535.77 224.13,535.29 225.12,534.77 226.1,534.23 227.09,533.66 228.08,533.06 229.07,532.42 230.06,531.74 231.04,531.04 232.03,530.29 233.02,529.5 234.01,528.68 235,527.81 235.98,526.89 236.97,525.93 237.96,524.93 238.95,523.87 239.94,522.76 240.92,521.6 241.91,520.39 242.9,519.13 243.89,517.8 244.88,516.42 245.86,514.99 246.85,513.49 247.84,511.94 248.83,510.32 249.82,508.65 250.8,506.91 251.79,505.12 252.78,503.26 253.77,501.35 254.76,499.38 255.74,497.35 256.73,495.27 257.72,493.13 258.71,490.94 259.7,488.71 260.68,486.43 261.67,484.1 262.66,481.74 263.65,479.34 264.64,476.9 265.62,474.44 266.61,471.96 267.6,469.45 268.59,466.93 269.58,464.4 270.56,461.87 271.55,459.33 272.54,456.8 273.53,454.28 274.52,451.77 275.5,449.28 276.49,446.81 277.48,444.37 278.47,441.96 279.46,439.58 280.44,437.25 281.43,434.95 282.42,432.7 283.41,430.5 284.4,428.35 285.38,426.25 286.37,424.21 287.36,422.22 288.35,420.29 289.34,418.42 290.32,416.61 291.31,414.85 292.3,413.16" fill="none" stroke="#0000ff" stroke-width="1.7"/>
<path d="M144.1,533.4V550M140.8,533.4H147.4M140.8,550H147.4" stroke="#0000ff" stroke-width="1.6" fill="none"/>
<circle cx="144.1" cy="542" r="3.65" fill="#0000ff"/>
<path d="M165,532V554.9M161.7,532H168.3M161.7,554.9H168.3" stroke="#0000ff" stroke-width="1.6" fill="none"/>
<circle cx="165" cy="543.4" r="3.65" fill="#0000ff"/>
<path d="M186.4,530.7V541.4M183.1,530.7H189.7M183.1,541.4H189.7" stroke="#0000ff" stroke-width="1.6" fill="none"/>
<circle cx="186.4" cy="536" r="3.65" fill="#0000ff"/>
<circle cx="207.4" cy="527.1" r="3.65" fill="#0000ff"/>
<path d="M228.7,534V557.9M225.4,534H232M225.4,557.9H232" stroke="#0000ff" stroke-width="1.6" fill="none"/>
<circle cx="228.7" cy="546" r="3.65" fill="#0000ff"/>
<path d="M249.6,493.3V524.1M246.3,493.3H252.9M246.3,524.1H252.9" stroke="#0000ff" stroke-width="1.6" fill="none"/>
<circle cx="249.6" cy="508.8" r="3.65" fill="#0000ff"/>
<path d="M271,456.5V465.1M267.7,456.5H274.3M267.7,465.1H274.3" stroke="#0000ff" stroke-width="1.6" fill="none"/>
<circle cx="271" cy="460.5" r="3.65" fill="#0000ff"/>
<path d="M292.3,402.9V419.8M289,402.9H295.6M289,419.8H295.6" stroke="#0000ff" stroke-width="1.6" fill="none"/>
<circle cx="292.3" cy="411.4" r="3.65" fill="#0000ff"/>
<line x1="432" y1="390.2" x2="432" y2="560.16" stroke="#000" stroke-width="1.6"/>
<line x1="427.2" y1="537.4" x2="432" y2="537.4" stroke="#000" stroke-width="1.5"/>
<text x="425" y="541.4" text-anchor="end" class="tk">0</text>
<line x1="427.2" y1="464.2" x2="432" y2="464.2" stroke="#000" stroke-width="1.5"/>
<text x="425" y="468.2" text-anchor="end" class="tk">50</text>
<line x1="427.2" y1="391" x2="432" y2="391" stroke="#000" stroke-width="1.5"/>
<text x="425" y="395" text-anchor="end" class="tk">100</text>
<line x1="431.2" y1="559.36" x2="685" y2="559.36" stroke="#000" stroke-width="1.6"/>
<line x1="432.7" y1="559.36" x2="432.7" y2="563.96" stroke="#000" stroke-width="1.5"/>
<text x="432.7" y="577.56" text-anchor="middle" class="tk">10<tspan class="sup" dy="-4.1">-4</tspan></text>
<line x1="449.56" y1="559.36" x2="449.56" y2="562.16" stroke="#000" stroke-width="1.3"/>
<line x1="459.42" y1="559.36" x2="459.42" y2="562.16" stroke="#000" stroke-width="1.3"/>
<line x1="466.42" y1="559.36" x2="466.42" y2="562.16" stroke="#000" stroke-width="1.3"/>
<line x1="471.84" y1="559.36" x2="471.84" y2="562.16" stroke="#000" stroke-width="1.3"/>
<line x1="476.28" y1="559.36" x2="476.28" y2="562.16" stroke="#000" stroke-width="1.3"/>
<line x1="480.03" y1="559.36" x2="480.03" y2="562.16" stroke="#000" stroke-width="1.3"/>
<line x1="483.27" y1="559.36" x2="483.27" y2="562.16" stroke="#000" stroke-width="1.3"/>
<line x1="486.14" y1="559.36" x2="486.14" y2="562.16" stroke="#000" stroke-width="1.3"/>
<line x1="488.7" y1="559.36" x2="488.7" y2="563.96" stroke="#000" stroke-width="1.5"/>
<text x="488.7" y="577.56" text-anchor="middle" class="tk">10<tspan class="sup" dy="-4.1">-2</tspan></text>
<line x1="505.56" y1="559.36" x2="505.56" y2="562.16" stroke="#000" stroke-width="1.3"/>
<line x1="515.42" y1="559.36" x2="515.42" y2="562.16" stroke="#000" stroke-width="1.3"/>
<line x1="522.42" y1="559.36" x2="522.42" y2="562.16" stroke="#000" stroke-width="1.3"/>
<line x1="527.84" y1="559.36" x2="527.84" y2="562.16" stroke="#000" stroke-width="1.3"/>
<line x1="532.28" y1="559.36" x2="532.28" y2="562.16" stroke="#000" stroke-width="1.3"/>
<line x1="536.03" y1="559.36" x2="536.03" y2="562.16" stroke="#000" stroke-width="1.3"/>
<line x1="539.27" y1="559.36" x2="539.27" y2="562.16" stroke="#000" stroke-width="1.3"/>
<line x1="542.14" y1="559.36" x2="542.14" y2="562.16" stroke="#000" stroke-width="1.3"/>
<line x1="544.7" y1="559.36" x2="544.7" y2="563.96" stroke="#000" stroke-width="1.5"/>
<text x="544.7" y="577.56" text-anchor="middle" class="tk">10<tspan class="sup" dy="-4.1">0</tspan></text>
<line x1="561.56" y1="559.36" x2="561.56" y2="562.16" stroke="#000" stroke-width="1.3"/>
<line x1="571.42" y1="559.36" x2="571.42" y2="562.16" stroke="#000" stroke-width="1.3"/>
<line x1="578.42" y1="559.36" x2="578.42" y2="562.16" stroke="#000" stroke-width="1.3"/>
<line x1="583.84" y1="559.36" x2="583.84" y2="562.16" stroke="#000" stroke-width="1.3"/>
<line x1="588.28" y1="559.36" x2="588.28" y2="562.16" stroke="#000" stroke-width="1.3"/>
<line x1="592.03" y1="559.36" x2="592.03" y2="562.16" stroke="#000" stroke-width="1.3"/>
<line x1="595.27" y1="559.36" x2="595.27" y2="562.16" stroke="#000" stroke-width="1.3"/>
<line x1="598.14" y1="559.36" x2="598.14" y2="562.16" stroke="#000" stroke-width="1.3"/>
<line x1="600.7" y1="559.36" x2="600.7" y2="563.96" stroke="#000" stroke-width="1.5"/>
<text x="600.7" y="577.56" text-anchor="middle" class="tk">10<tspan class="sup" dy="-4.1">2</tspan></text>
<line x1="617.56" y1="559.36" x2="617.56" y2="562.16" stroke="#000" stroke-width="1.3"/>
<line x1="627.42" y1="559.36" x2="627.42" y2="562.16" stroke="#000" stroke-width="1.3"/>
<line x1="634.42" y1="559.36" x2="634.42" y2="562.16" stroke="#000" stroke-width="1.3"/>
<line x1="639.84" y1="559.36" x2="639.84" y2="562.16" stroke="#000" stroke-width="1.3"/>
<line x1="644.28" y1="559.36" x2="644.28" y2="562.16" stroke="#000" stroke-width="1.3"/>
<line x1="648.03" y1="559.36" x2="648.03" y2="562.16" stroke="#000" stroke-width="1.3"/>
<line x1="651.27" y1="559.36" x2="651.27" y2="562.16" stroke="#000" stroke-width="1.3"/>
<line x1="654.14" y1="559.36" x2="654.14" y2="562.16" stroke="#000" stroke-width="1.3"/>
<line x1="656.7" y1="559.36" x2="656.7" y2="563.96" stroke="#000" stroke-width="1.5"/>
<text x="656.7" y="577.56" text-anchor="middle" class="tk">10<tspan class="sup" dy="-4.1">4</tspan></text>
<line x1="673.56" y1="559.36" x2="673.56" y2="562.16" stroke="#000" stroke-width="1.3"/>
<line x1="683.42" y1="559.36" x2="683.42" y2="562.16" stroke="#000" stroke-width="1.3"/>
<line x1="436.15" y1="537.4" x2="685" y2="537.4" stroke="#1a1a1a" stroke-width="1.8" stroke-dasharray="1.8 3.25"/>
<text x="558.5" y="597.5" text-anchor="middle" class="ttl">Concentration (nM)</text>
<text transform="translate(380.9,475.18) rotate(-90)" text-anchor="middle" class="ttl yl">Inhibition of HCoV-229E</text>
<text transform="translate(397.9,475.18) rotate(-90)" text-anchor="middle" class="ttl yl" style="word-spacing:0px;font-size:14.05px">PsV&#160; infection (%)</text>
<text x="379" y="359.6" class="let" font-size="32">d</text>
<line x1="433.8" y1="351.9" x2="451.3" y2="351.9" stroke="#0000ff" stroke-width="1.7"/>
<circle cx="442.55" cy="351.9" r="3.94" fill="#0000ff"/>
<text x="450.3" y="357.8" class="lg">EK1</text>
<text x="501.4" y="357.8" class="lg">5239.6 <tspan class="pm" dy="1.2">±</tspan><tspan dy="-1.2"> 1529.1</tspan></text>
<line x1="433.8" y1="367.7" x2="451.3" y2="367.7" stroke="#ff0000" stroke-width="1.7"/>
<rect x="438.85" y="364" width="7.4" height="7.4" fill="#ff0000"/>
<text x="450.3" y="372.5" class="lg">GRFT</text>
<text x="501.4" y="372.5" class="lg">22.6 <tspan class="pm" dy="1.2">±</tspan><tspan dy="-1.2"> 2.1</tspan></text>
<line x1="433.8" y1="384.3" x2="451.3" y2="384.3" stroke="#00bf00" stroke-width="1.7"/>
<path d="M442.55,379.7 L446.35,387.5 L438.75,387.5 Z" fill="#00bf00"/>
<text x="450.3" y="389" class="lg">GL25E</text>
<text x="501.4" y="389" class="lg">1.8 <tspan class="pm" dy="1.2">±</tspan><tspan dy="-1.2"> 0.5</tspan></text>
<text x="500.8" y="341" class="lg">IC50 (nM)</text>
<polyline points="463.4,537.42 464.32,537.42 465.23,537.42 466.15,537.42 467.06,537.42 467.98,537.42 468.89,537.42 469.81,537.42 470.72,537.42 471.64,537.42 472.55,537.42 473.47,537.42 474.38,537.42 475.3,537.42 476.21,537.42 477.13,537.42 478.05,537.42 478.96,537.42 479.88,537.42 480.79,537.42 481.71,537.42 482.62,537.42 483.54,537.42 484.45,537.42 485.37,537.42 486.28,537.42 487.2,537.42 488.11,537.42 489.03,537.42 489.94,537.42 490.86,537.42 491.78,537.42 492.69,537.42 493.61,537.41 494.52,537.41 495.44,537.41 496.35,537.41 497.27,537.41 498.18,537.41 499.1,537.4 500.01,537.4 500.93,537.4 501.84,537.39 502.76,537.39 503.67,537.38 504.59,537.38 505.51,537.37 506.42,537.36 507.34,537.35 508.25,537.34 509.17,537.33 510.08,537.32 511,537.3 511.91,537.28 512.83,537.26 513.74,537.23 514.66,537.2 515.57,537.17 516.49,537.13 517.4,537.09 518.32,537.03 519.24,536.97 520.15,536.91 521.07,536.83 521.98,536.74 522.9,536.63 523.81,536.51 524.73,536.37 525.64,536.21 526.56,536.03 527.47,535.82 528.39,535.57 529.3,535.29 530.22,534.97 531.13,534.6 532.05,534.18 532.97,533.69 533.88,533.13 534.8,532.5 535.71,531.77 536.63,530.94 537.54,529.99 538.46,528.92 539.37,527.7 540.29,526.32 541.2,524.76 542.12,523.01 543.03,521.04 543.95,518.85 544.86,516.4 545.78,513.7 546.7,510.72 547.61,507.46 548.53,503.91 549.44,500.07 550.36,495.96 551.27,491.59 552.19,486.97 553.1,482.15 554.02,477.15 554.93,472.03 555.85,466.83 556.76,461.6 557.68,456.4 558.59,451.27 559.51,446.28 560.43,441.45 561.34,436.83 562.26,432.46 563.17,428.34 564.09,424.51 565,420.95 565.92,417.69 566.83,414.71 567.75,412 568.66,409.56 569.58,407.36 570.49,405.39 571.41,403.64 572.32,402.08 573.24,400.69 574.16,399.47 575.07,398.4 575.99,397.45 576.9,396.62 577.82,395.89 578.73,395.26 579.65,394.7 580.56,394.21 581.48,393.79 582.39,393.42 583.31,393.1 584.22,392.81 585.14,392.57 586.05,392.36 586.97,392.17 587.89,392.01 588.8,391.87 589.72,391.75 590.63,391.65 591.55,391.56 592.46,391.48 593.38,391.41 594.29,391.35 595.21,391.3 596.12,391.25 597.04,391.21 597.95,391.18 598.87,391.15 599.78,391.13 600.7,391.1" fill="none" stroke="#00bf00" stroke-width="1.7"/>
<path d="M463.4,530.1V546M460.1,530.1H466.7M460.1,546H466.7" stroke="#00bf00" stroke-width="1.6" fill="none"/>
<path d="M463.4,533.4 L467.2,541.2 L459.6,541.2 Z" fill="#00bf00"/>
<path d="M482.7,531V543.4M479.4,531H486M479.4,543.4H486" stroke="#00bf00" stroke-width="1.6" fill="none"/>
<path d="M482.7,533.4 L486.5,541.2 L478.9,541.2 Z" fill="#00bf00"/>
<path d="M502.6,529V537M499.3,529H505.9M499.3,537H505.9" stroke="#00bf00" stroke-width="1.6" fill="none"/>
<path d="M502.6,530.4 L506.4,538.2 L498.8,538.2 Z" fill="#00bf00"/>
<path d="M521.8,526.1V536M518.5,526.1H525.1M518.5,536H525.1" stroke="#00bf00" stroke-width="1.6" fill="none"/>
<path d="M521.8,528.4 L525.6,536.2 L518,536.2 Z" fill="#00bf00"/>
<path d="M541.7,522.1V534M538.4,522.1H545M538.4,534H545" stroke="#00bf00" stroke-width="1.6" fill="none"/>
<path d="M541.7,523.5 L545.5,531.3 L537.9,531.3 Z" fill="#00bf00"/>
<path d="M561.5,433 L565.3,440.8 L557.7,440.8 Z" fill="#00bf00"/>
<path d="M580.8,398.3 L584.6,406.1 L577,406.1 Z" fill="#00bf00"/>
<path d="M600.7,388.9 L604.5,396.7 L596.9,396.7 Z" fill="#00bf00"/>
<polyline points="463.4,537.45 464.32,537.45 465.23,537.45 466.15,537.45 467.06,537.45 467.98,537.45 468.89,537.45 469.81,537.45 470.72,537.45 471.64,537.44 472.55,537.44 473.47,537.44 474.38,537.44 475.3,537.44 476.21,537.44 477.13,537.44 478.05,537.44 478.96,537.44 479.88,537.44 480.79,537.44 481.71,537.44 482.62,537.44 483.54,537.44 484.45,537.44 485.37,537.44 486.28,537.44 487.2,537.44 488.11,537.44 489.03,537.44 489.94,537.44 490.86,537.44 491.78,537.43 492.69,537.43 493.61,537.43 494.52,537.43 495.44,537.43 496.35,537.43 497.27,537.42 498.18,537.42 499.1,537.42 500.01,537.41 500.93,537.41 501.84,537.41 502.76,537.4 503.67,537.4 504.59,537.39 505.51,537.39 506.42,537.38 507.34,537.37 508.25,537.36 509.17,537.35 510.08,537.34 511,537.33 511.91,537.32 512.83,537.31 513.74,537.29 514.66,537.27 515.57,537.25 516.49,537.23 517.4,537.21 518.32,537.18 519.24,537.15 520.15,537.12 521.07,537.08 521.98,537.04 522.9,537 523.81,536.95 524.73,536.9 525.64,536.83 526.56,536.77 527.47,536.69 528.39,536.61 529.3,536.51 530.22,536.41 531.13,536.3 532.05,536.17 532.97,536.03 533.88,535.87 534.8,535.7 535.71,535.51 536.63,535.3 537.54,535.06 538.46,534.8 539.37,534.51 540.29,534.19 541.2,533.84 542.12,533.45 543.03,533.01 543.95,532.54 544.86,532.01 545.78,531.43 546.7,530.79 547.61,530.09 548.53,529.32 549.44,528.47 550.36,527.53 551.27,526.51 552.19,525.4 553.1,524.18 554.02,522.85 554.93,521.41 555.85,519.84 556.76,518.14 557.68,516.3 558.59,514.33 559.51,512.2 560.43,509.93 561.34,507.5 562.26,504.92 563.17,502.18 564.09,499.29 565,496.26 565.92,493.08 566.83,489.77 567.75,486.35 568.66,482.81 569.58,479.19 570.49,475.49 571.41,471.74 572.32,467.95 573.24,464.15 574.16,460.35 575.07,456.58 575.99,452.86 576.9,449.21 577.82,445.65 578.73,442.18 579.65,438.84 580.56,435.62 581.48,432.53 582.39,429.6 583.31,426.81 584.22,424.18 585.14,421.7 586.05,419.37 586.97,417.2 587.89,415.17 588.8,413.29 589.72,411.55 590.63,409.94 591.55,408.45 592.46,407.09 593.38,405.83 594.29,404.68 595.21,403.63 596.12,402.67 597.04,401.8 597.95,401 598.87,400.27 599.78,399.61 600.7,399.01" fill="none" stroke="#ff0000" stroke-width="1.7"/>
<path d="M463.4,535V543M460.1,535H466.7M460.1,543H466.7" stroke="#ff0000" stroke-width="1.6" fill="none"/>
<rect x="459.7" y="535.3" width="7.4" height="7.4" fill="#ff0000"/>
<path d="M482.7,531V538M479.4,531H486M479.4,538H486" stroke="#ff0000" stroke-width="1.6" fill="none"/>
<rect x="479" y="530.9" width="7.4" height="7.4" fill="#ff0000"/>
<path d="M502.6,531V537M499.3,531H505.9M499.3,537H505.9" stroke="#ff0000" stroke-width="1.6" fill="none"/>
<rect x="498.9" y="530.3" width="7.4" height="7.4" fill="#ff0000"/>
<path d="M521.8,534V548M518.5,534H525.1M518.5,548H525.1" stroke="#ff0000" stroke-width="1.6" fill="none"/>
<rect x="518.1" y="537.3" width="7.4" height="7.4" fill="#ff0000"/>
<path d="M541.7,542V555M538.4,542H545M538.4,555H545" stroke="#ff0000" stroke-width="1.6" fill="none"/>
<rect x="538" y="544.3" width="7.4" height="7.4" fill="#ff0000"/>
<rect x="557.8" y="504.5" width="7.4" height="7.4" fill="#ff0000"/>
<path d="M580.8,429.7V442.6M577.5,429.7H584.1M577.5,442.6H584.1" stroke="#ff0000" stroke-width="1.6" fill="none"/>
<rect x="577.1" y="432.6" width="7.4" height="7.4" fill="#ff0000"/>
<rect x="597" y="400.5" width="7.4" height="7.4" fill="#ff0000"/>
<polyline points="519.4,535.67 520.32,535.67 521.23,535.67 522.15,535.67 523.06,535.67 523.98,535.67 524.89,535.67 525.81,535.67 526.72,535.67 527.64,535.67 528.55,535.67 529.47,535.67 530.38,535.67 531.3,535.67 532.21,535.67 533.13,535.67 534.05,535.67 534.96,535.67 535.88,535.67 536.79,535.67 537.71,535.67 538.62,535.67 539.54,535.67 540.45,535.67 541.37,535.67 542.28,535.67 543.2,535.67 544.11,535.67 545.03,535.67 545.94,535.67 546.86,535.67 547.78,535.67 548.69,535.67 549.61,535.67 550.52,535.67 551.44,535.67 552.35,535.67 553.27,535.67 554.18,535.67 555.1,535.67 556.01,535.67 556.93,535.67 557.84,535.67 558.76,535.67 559.67,535.67 560.59,535.67 561.51,535.67 562.42,535.66 563.34,535.66 564.25,535.66 565.17,535.66 566.08,535.66 567,535.66 567.91,535.66 568.83,535.66 569.74,535.65 570.66,535.65 571.57,535.65 572.49,535.65 573.4,535.64 574.32,535.64 575.24,535.63 576.15,535.63 577.07,535.62 577.98,535.62 578.9,535.61 579.81,535.6 580.73,535.6 581.64,535.59 582.56,535.57 583.47,535.56 584.39,535.55 585.3,535.53 586.22,535.52 587.13,535.5 588.05,535.48 588.97,535.45 589.88,535.42 590.8,535.39 591.71,535.36 592.63,535.32 593.54,535.28 594.46,535.23 595.37,535.17 596.29,535.11 597.2,535.04 598.12,534.96 599.03,534.88 599.95,534.78 600.86,534.67 601.78,534.54 602.7,534.41 603.61,534.25 604.53,534.08 605.44,533.88 606.36,533.66 607.27,533.42 608.19,533.14 609.1,532.83 610.02,532.49 610.93,532.1 611.85,531.67 612.76,531.19 613.68,530.65 614.59,530.06 615.51,529.39 616.43,528.65 617.34,527.83 618.26,526.91 619.17,525.9 620.09,524.78 621,523.54 621.92,522.18 622.83,520.68 623.75,519.04 624.66,517.24 625.58,515.29 626.49,513.16 627.41,510.85 628.32,508.36 629.24,505.69 630.16,502.83 631.07,499.79 631.99,496.56 632.9,493.16 633.82,489.6 634.73,485.88 635.65,482.04 636.56,478.09 637.48,474.04 638.39,469.94 639.31,465.8 640.22,461.65 641.14,457.53 642.05,453.45 642.97,449.45 643.89,445.55 644.8,441.76 645.72,438.12 646.63,434.64 647.55,431.33 648.46,428.19 649.38,425.23 650.29,422.47 651.21,419.89 652.12,417.49 653.04,415.27 653.95,413.23 654.87,411.35 655.78,409.63 656.7,408.06" fill="none" stroke="#0000ff" stroke-width="1.7"/>
<circle cx="519.4" cy="535" r="3.65" fill="#0000ff"/>
<path d="M538.3,533V547M535,533H541.6M535,547H541.6" stroke="#0000ff" stroke-width="1.6" fill="none"/>
<circle cx="538.3" cy="540" r="3.65" fill="#0000ff"/>
<path d="M558.3,531V536M555,531H561.6M555,536H561.6" stroke="#0000ff" stroke-width="1.6" fill="none"/>
<circle cx="558.3" cy="533.4" r="3.65" fill="#0000ff"/>
<path d="M578.2,533V539M574.9,533H581.5M574.9,539H581.5" stroke="#0000ff" stroke-width="1.6" fill="none"/>
<circle cx="578.2" cy="536" r="3.65" fill="#0000ff"/>
<circle cx="597.7" cy="534" r="3.65" fill="#0000ff"/>
<path d="M617.6,516.2V524.1M614.3,516.2H620.9M614.3,524.1H620.9" stroke="#0000ff" stroke-width="1.6" fill="none"/>
<circle cx="617.6" cy="520.1" r="3.65" fill="#0000ff"/>
<path d="M636.9,465.5V491.3M633.6,465.5H640.2M633.6,491.3H640.2" stroke="#0000ff" stroke-width="1.6" fill="none"/>
<circle cx="636.9" cy="478" r="3.65" fill="#0000ff"/>
<circle cx="656.7" cy="404.8" r="3.65" fill="#0000ff"/>
<line x1="61.4" y1="694.4" x2="61.4" y2="864.7" stroke="#000" stroke-width="1.6"/>
<line x1="56.6" y1="841.9" x2="61.4" y2="841.9" stroke="#000" stroke-width="1.5"/>
<text x="54.4" y="845.9" text-anchor="end" class="tk">0</text>
<line x1="56.6" y1="768.55" x2="61.4" y2="768.55" stroke="#000" stroke-width="1.5"/>
<text x="54.4" y="772.55" text-anchor="end" class="tk">50</text>
<line x1="56.6" y1="695.2" x2="61.4" y2="695.2" stroke="#000" stroke-width="1.5"/>
<text x="54.4" y="699.2" text-anchor="end" class="tk">100</text>
<line x1="60.6" y1="863.9" x2="314.4" y2="863.9" stroke="#000" stroke-width="1.6"/>
<line x1="69.52" y1="863.9" x2="69.52" y2="866.7" stroke="#000" stroke-width="1.3"/>
<line x1="79.41" y1="863.9" x2="79.41" y2="866.7" stroke="#000" stroke-width="1.3"/>
<line x1="86.44" y1="863.9" x2="86.44" y2="866.7" stroke="#000" stroke-width="1.3"/>
<line x1="91.88" y1="863.9" x2="91.88" y2="866.7" stroke="#000" stroke-width="1.3"/>
<line x1="96.33" y1="863.9" x2="96.33" y2="866.7" stroke="#000" stroke-width="1.3"/>
<line x1="100.09" y1="863.9" x2="100.09" y2="866.7" stroke="#000" stroke-width="1.3"/>
<line x1="103.35" y1="863.9" x2="103.35" y2="866.7" stroke="#000" stroke-width="1.3"/>
<line x1="106.23" y1="863.9" x2="106.23" y2="866.7" stroke="#000" stroke-width="1.3"/>
<line x1="108.8" y1="863.9" x2="108.8" y2="868.5" stroke="#000" stroke-width="1.5"/>
<text x="108.8" y="882.11" text-anchor="middle" class="tk">10<tspan class="sup" dy="-4.1">-2</tspan></text>
<line x1="125.72" y1="863.9" x2="125.72" y2="866.7" stroke="#000" stroke-width="1.3"/>
<line x1="135.61" y1="863.9" x2="135.61" y2="866.7" stroke="#000" stroke-width="1.3"/>
<line x1="142.64" y1="863.9" x2="142.64" y2="866.7" stroke="#000" stroke-width="1.3"/>
<line x1="148.08" y1="863.9" x2="148.08" y2="866.7" stroke="#000" stroke-width="1.3"/>
<line x1="152.53" y1="863.9" x2="152.53" y2="866.7" stroke="#000" stroke-width="1.3"/>
<line x1="156.29" y1="863.9" x2="156.29" y2="866.7" stroke="#000" stroke-width="1.3"/>
<line x1="159.55" y1="863.9" x2="159.55" y2="866.7" stroke="#000" stroke-width="1.3"/>
<line x1="162.43" y1="863.9" x2="162.43" y2="866.7" stroke="#000" stroke-width="1.3"/>
<line x1="165" y1="863.9" x2="165" y2="868.5" stroke="#000" stroke-width="1.5"/>
<text x="165" y="882.11" text-anchor="middle" class="tk">10<tspan class="sup" dy="-4.1">0</tspan></text>
<line x1="181.92" y1="863.9" x2="181.92" y2="866.7" stroke="#000" stroke-width="1.3"/>
<line x1="191.81" y1="863.9" x2="191.81" y2="866.7" stroke="#000" stroke-width="1.3"/>
<line x1="198.84" y1="863.9" x2="198.84" y2="866.7" stroke="#000" stroke-width="1.3"/>
<line x1="204.28" y1="863.9" x2="204.28" y2="866.7" stroke="#000" stroke-width="1.3"/>
<line x1="208.73" y1="863.9" x2="208.73" y2="866.7" stroke="#000" stroke-width="1.3"/>
<line x1="212.49" y1="863.9" x2="212.49" y2="866.7" stroke="#000" stroke-width="1.3"/>
<line x1="215.75" y1="863.9" x2="215.75" y2="866.7" stroke="#000" stroke-width="1.3"/>
<line x1="218.63" y1="863.9" x2="218.63" y2="866.7" stroke="#000" stroke-width="1.3"/>
<line x1="221.2" y1="863.9" x2="221.2" y2="868.5" stroke="#000" stroke-width="1.5"/>
<text x="221.2" y="882.11" text-anchor="middle" class="tk">10<tspan class="sup" dy="-4.1">2</tspan></text>
<line x1="238.12" y1="863.9" x2="238.12" y2="866.7" stroke="#000" stroke-width="1.3"/>
<line x1="248.01" y1="863.9" x2="248.01" y2="866.7" stroke="#000" stroke-width="1.3"/>
<line x1="255.04" y1="863.9" x2="255.04" y2="866.7" stroke="#000" stroke-width="1.3"/>
<line x1="260.48" y1="863.9" x2="260.48" y2="866.7" stroke="#000" stroke-width="1.3"/>
<line x1="264.93" y1="863.9" x2="264.93" y2="866.7" stroke="#000" stroke-width="1.3"/>
<line x1="268.69" y1="863.9" x2="268.69" y2="866.7" stroke="#000" stroke-width="1.3"/>
<line x1="271.95" y1="863.9" x2="271.95" y2="866.7" stroke="#000" stroke-width="1.3"/>
<line x1="274.83" y1="863.9" x2="274.83" y2="866.7" stroke="#000" stroke-width="1.3"/>
<line x1="277.4" y1="863.9" x2="277.4" y2="868.5" stroke="#000" stroke-width="1.5"/>
<text x="277.4" y="882.11" text-anchor="middle" class="tk">10<tspan class="sup" dy="-4.1">4</tspan></text>
<line x1="294.32" y1="863.9" x2="294.32" y2="866.7" stroke="#000" stroke-width="1.3"/>
<line x1="304.21" y1="863.9" x2="304.21" y2="866.7" stroke="#000" stroke-width="1.3"/>
<line x1="311.24" y1="863.9" x2="311.24" y2="866.7" stroke="#000" stroke-width="1.3"/>
<line x1="65.55" y1="841.9" x2="314.4" y2="841.9" stroke="#1a1a1a" stroke-width="1.8" stroke-dasharray="1.8 3.25"/>
<text x="187.9" y="901.5" text-anchor="middle" class="ttl">Concentration (nM)</text>
<text transform="translate(10.3,779.55) rotate(-90)" text-anchor="middle" class="ttl yl">Inhibition of HCoV-OC43</text>
<text transform="translate(27.3,779.55) rotate(-90)" text-anchor="middle" class="ttl yl" style="word-spacing:0px;font-size:14.05px">PsV&#160; infection (%)</text>
<text x="16.5" y="657.4" class="let" font-size="35">e</text>
<line x1="62.9" y1="656.6" x2="80.4" y2="656.6" stroke="#0000ff" stroke-width="1.7"/>
<circle cx="71.65" cy="656.6" r="3.94" fill="#0000ff"/>
<text x="82.6" y="661.2" class="lg">EK1</text>
<text x="134.2" y="661.2" class="lg">610.5 <tspan class="pm" dy="1.2">±</tspan><tspan dy="-1.2"> 40.3</tspan></text>
<line x1="62.9" y1="672.4" x2="80.4" y2="672.4" stroke="#ff0000" stroke-width="1.7"/>
<rect x="67.95" y="668.7" width="7.4" height="7.4" fill="#ff0000"/>
<text x="82.6" y="676.5" class="lg">GRFT</text>
<text x="134.2" y="676.5" class="lg">1.44 <tspan class="pm" dy="1.2">±</tspan><tspan dy="-1.2"> 0.54</tspan></text>
<line x1="62.9" y1="688.9" x2="80.4" y2="688.9" stroke="#00bf00" stroke-width="1.7"/>
<path d="M71.65,684.3 L75.45,692.1 L67.85,692.1 Z" fill="#00bf00"/>
<text x="82.6" y="692.5" class="lg">GL25E</text>
<text x="134.2" y="692.5" class="lg">0.15 <tspan class="pm" dy="1.2">±</tspan><tspan dy="-1.2"> 0.01</tspan></text>
<text x="133.6" y="644.6" class="lg">IC50 (nM)</text>
<polyline points="92.2,834.75 93.12,834.37 94.03,833.98 94.95,833.56 95.87,833.13 96.78,832.67 97.7,832.19 98.62,831.69 99.53,831.16 100.45,830.61 101.37,830.03 102.28,829.42 103.2,828.78 104.12,828.12 105.03,827.42 105.95,826.7 106.87,825.94 107.78,825.14 108.7,824.32 109.62,823.45 110.53,822.55 111.45,821.62 112.37,820.64 113.28,819.63 114.2,818.57 115.12,817.48 116.03,816.34 116.95,815.16 117.87,813.94 118.78,812.68 119.7,811.38 120.62,810.03 121.53,808.64 122.45,807.2 123.37,805.73 124.28,804.21 125.2,802.65 126.12,801.05 127.03,799.41 127.95,797.73 128.87,796.01 129.78,794.26 130.7,792.47 131.62,790.65 132.53,788.8 133.45,786.92 134.37,785.01 135.28,783.08 136.2,781.13 137.12,779.15 138.03,777.17 138.95,775.16 139.87,773.15 140.78,771.13 141.7,769.11 142.62,767.08 143.53,765.06 144.45,763.04 145.37,761.03 146.28,759.02 147.2,757.04 148.12,755.07 149.03,753.11 149.95,751.18 150.87,749.28 151.78,747.4 152.7,745.55 153.62,743.73 154.53,741.94 155.45,740.19 156.37,738.48 157.28,736.8 158.2,735.16 159.12,733.56 160.03,732 160.95,730.48 161.87,729.01 162.78,727.58 163.7,726.19 164.62,724.84 165.53,723.54 166.45,722.28 167.37,721.06 168.28,719.89 169.2,718.75 170.12,717.66 171.03,716.61 171.95,715.59 172.87,714.62 173.78,713.68 174.7,712.79 175.62,711.92 176.53,711.1 177.45,710.31 178.37,709.55 179.28,708.82 180.2,708.13 181.12,707.46 182.03,706.83 182.95,706.22 183.87,705.65 184.78,705.09 185.7,704.57 186.62,704.07 187.53,703.59 188.45,703.13 189.37,702.7 190.28,702.28 191.2,701.89 192.12,701.52 193.03,701.16 193.95,700.82 194.87,700.5 195.78,700.19 196.7,699.9 197.62,699.62 198.53,699.36 199.45,699.11 200.37,698.87 201.28,698.65 202.2,698.43 203.12,698.23 204.03,698.04 204.95,697.86 205.87,697.68 206.78,697.52 207.7,697.36 208.62,697.21 209.53,697.07 210.45,696.94 211.37,696.81 212.28,696.69 213.2,696.58 214.12,696.47 215.03,696.37 215.95,696.28 216.87,696.18 217.78,696.1 218.7,696.02 219.62,695.94 220.53,695.86 221.45,695.79 222.37,695.73 223.28,695.67 224.2,695.61 225.12,695.55 226.03,695.5 226.95,695.45 227.87,695.4 228.78,695.35 229.7,695.31" fill="none" stroke="#00bf00" stroke-width="1.7"/>
<path d="M92.2,833.7V849.6M88.9,833.7H95.5M88.9,849.6H95.5" stroke="#00bf00" stroke-width="1.6" fill="none"/>
<path d="M92.2,837.4 L96,845.2 L88.4,845.2 Z" fill="#00bf00"/>
<path d="M112.1,813.8V822.1M108.8,813.8H115.4M108.8,822.1H115.4" stroke="#00bf00" stroke-width="1.6" fill="none"/>
<path d="M112.1,815.2 L115.9,823 L108.3,823 Z" fill="#00bf00"/>
<path d="M131.6,779.4V811.2M128.3,779.4H134.9M128.3,811.2H134.9" stroke="#00bf00" stroke-width="1.6" fill="none"/>
<path d="M131.6,790.7 L135.4,798.5 L127.8,798.5 Z" fill="#00bf00"/>
<path d="M151,727.7V758.1M147.7,727.7H154.3M147.7,758.1H154.3" stroke="#00bf00" stroke-width="1.6" fill="none"/>
<path d="M151,739 L154.8,746.8 L147.2,746.8 Z" fill="#00bf00"/>
<path d="M170.3,714V721.5M167,714H173.6M167,721.5H173.6" stroke="#00bf00" stroke-width="1.6" fill="none"/>
<path d="M170.3,713.8 L174.1,721.6 L166.5,721.6 Z" fill="#00bf00"/>
<path d="M190.3,699.9V709.8M187,699.9H193.6M187,709.8H193.6" stroke="#00bf00" stroke-width="1.6" fill="none"/>
<path d="M190.3,700.3 L194.1,708.1 L186.5,708.1 Z" fill="#00bf00"/>
<path d="M209.8,693.3 L213.6,701.1 L206,701.1 Z" fill="#00bf00"/>
<path d="M229.7,691.4 L233.5,699.2 L225.9,699.2 Z" fill="#00bf00"/>
<polyline points="92.2,841.36 93.12,841.36 94.03,841.35 94.95,841.35 95.87,841.35 96.78,841.35 97.7,841.35 98.62,841.35 99.53,841.35 100.45,841.35 101.37,841.35 102.28,841.35 103.2,841.35 104.12,841.35 105.03,841.34 105.95,841.34 106.87,841.34 107.78,841.34 108.7,841.34 109.62,841.33 110.53,841.33 111.45,841.33 112.37,841.32 113.28,841.32 114.2,841.31 115.12,841.31 116.03,841.3 116.95,841.29 117.87,841.28 118.78,841.27 119.7,841.26 120.62,841.25 121.53,841.24 122.45,841.22 123.37,841.21 124.28,841.19 125.2,841.16 126.12,841.14 127.03,841.11 127.95,841.08 128.87,841.05 129.78,841.01 130.7,840.96 131.62,840.91 132.53,840.85 133.45,840.79 134.37,840.71 135.28,840.63 136.2,840.54 137.12,840.44 138.03,840.32 138.95,840.19 139.87,840.04 140.78,839.87 141.7,839.68 142.62,839.47 143.53,839.23 144.45,838.96 145.37,838.66 146.28,838.32 147.2,837.94 148.12,837.52 149.03,837.04 149.95,836.5 150.87,835.9 151.78,835.23 152.7,834.49 153.62,833.65 154.53,832.72 155.45,831.69 156.37,830.54 157.28,829.27 158.2,827.86 159.12,826.3 160.03,824.6 160.95,822.72 161.87,820.67 162.78,818.43 163.7,816 164.62,813.36 165.53,810.53 166.45,807.49 167.37,804.24 168.28,800.8 169.2,797.17 170.12,793.35 171.03,789.38 171.95,785.26 172.87,781.02 173.78,776.7 174.7,772.3 175.62,767.88 176.53,763.46 177.45,759.07 178.37,754.74 179.28,750.51 180.2,746.39 181.12,742.42 182.03,738.61 182.95,734.98 183.87,731.54 184.78,728.3 185.7,725.27 186.62,722.44 187.53,719.81 188.45,717.39 189.37,715.15 190.28,713.1 191.2,711.23 192.12,709.53 193.03,707.98 193.95,706.57 194.87,705.3 195.78,704.16 196.7,703.13 197.62,702.2 198.53,701.37 199.45,700.62 200.37,699.95 201.28,699.35 202.2,698.82 203.12,698.34 204.03,697.92 204.95,697.54 205.87,697.2 206.78,696.9 207.7,696.63 208.62,696.4 209.53,696.19 210.45,696 211.37,695.83 212.28,695.68 213.2,695.55 214.12,695.43 215.03,695.33 215.95,695.24 216.87,695.16 217.78,695.08 218.7,695.02 219.62,694.96 220.53,694.91 221.45,694.87 222.37,694.83 223.28,694.79 224.2,694.76 225.12,694.73 226.03,694.71 226.95,694.68 227.87,694.67 228.78,694.65 229.7,694.63" fill="none" stroke="#ff0000" stroke-width="1.7"/>
<path d="M92.2,838V852M88.9,838H95.5M88.9,852H95.5" stroke="#ff0000" stroke-width="1.6" fill="none"/>
<rect x="88.5" y="841.3" width="7.4" height="7.4" fill="#ff0000"/>
<rect x="108.4" y="843.3" width="7.4" height="7.4" fill="#ff0000"/>
<rect x="127.9" y="834.8" width="7.4" height="7.4" fill="#ff0000"/>
<path d="M151,831.1V844M147.7,831.1H154.3M147.7,844H154.3" stroke="#ff0000" stroke-width="1.6" fill="none"/>
<rect x="147.3" y="833.4" width="7.4" height="7.4" fill="#ff0000"/>
<path d="M170.3,783.4V802.3M167,783.4H173.6M167,802.3H173.6" stroke="#ff0000" stroke-width="1.6" fill="none"/>
<rect x="166.6" y="789" width="7.4" height="7.4" fill="#ff0000"/>
<rect x="186.6" y="712.1" width="7.4" height="7.4" fill="#ff0000"/>
<rect x="206.1" y="698.2" width="7.4" height="7.4" fill="#ff0000"/>
<rect x="226" y="692.8" width="7.4" height="7.4" fill="#ff0000"/>
<polyline points="148.5,840.71 149.41,840.71 150.32,840.7 151.24,840.69 152.15,840.68 153.06,840.68 153.97,840.67 154.88,840.66 155.8,840.65 156.71,840.64 157.62,840.62 158.53,840.61 159.44,840.6 160.36,840.58 161.27,840.57 162.18,840.55 163.09,840.53 164,840.51 164.92,840.49 165.83,840.47 166.74,840.45 167.65,840.42 168.56,840.39 169.48,840.36 170.39,840.33 171.3,840.3 172.21,840.26 173.12,840.22 174.04,840.18 174.95,840.13 175.86,840.08 176.77,840.03 177.68,839.98 178.6,839.92 179.51,839.85 180.42,839.78 181.33,839.71 182.24,839.63 183.16,839.54 184.07,839.45 184.98,839.35 185.89,839.24 186.8,839.13 187.72,839 188.63,838.87 189.54,838.73 190.45,838.58 191.36,838.42 192.28,838.25 193.19,838.06 194.1,837.86 195.01,837.65 195.92,837.42 196.84,837.17 197.75,836.91 198.66,836.63 199.57,836.33 200.48,836.01 201.4,835.67 202.31,835.3 203.22,834.91 204.13,834.49 205.04,834.04 205.96,833.56 206.87,833.05 207.78,832.51 208.69,831.93 209.6,831.31 210.52,830.66 211.43,829.96 212.34,829.22 213.25,828.43 214.16,827.59 215.08,826.7 215.99,825.76 216.9,824.77 217.81,823.71 218.72,822.6 219.64,821.43 220.55,820.19 221.46,818.88 222.37,817.51 223.28,816.07 224.2,814.57 225.11,812.98 226.02,811.33 226.93,809.61 227.84,807.81 228.76,805.94 229.67,804 230.58,801.99 231.49,799.91 232.4,797.76 233.32,795.55 234.23,793.27 235.14,790.94 236.05,788.55 236.96,786.12 237.88,783.64 238.79,781.12 239.7,778.56 240.61,775.98 241.52,773.38 242.44,770.76 243.35,768.13 244.26,765.51 245.17,762.88 246.08,760.27 247,757.68 247.91,755.11 248.82,752.58 249.73,750.08 250.64,747.62 251.56,745.21 252.47,742.85 253.38,740.55 254.29,738.31 255.2,736.13 256.12,734.02 257.03,731.97 257.94,730 258.85,728.1 259.76,726.26 260.68,724.51 261.59,722.82 262.5,721.2 263.41,719.66 264.32,718.19 265.24,716.79 266.15,715.45 267.06,714.18 267.97,712.98 268.88,711.84 269.8,710.76 270.71,709.74 271.62,708.77 272.53,707.86 273.44,707 274.36,706.19 275.27,705.42 276.18,704.71 277.09,704.03 278,703.39 278.92,702.8 279.83,702.24 280.74,701.71 281.65,701.22 282.56,700.76 283.48,700.33 284.39,699.92 285.3,699.54" fill="none" stroke="#0000ff" stroke-width="1.7"/>
<circle cx="148.5" cy="842.4" r="3.65" fill="#0000ff"/>
<circle cx="168.3" cy="839.6" r="3.65" fill="#0000ff"/>
<circle cx="187.6" cy="835.7" r="3.65" fill="#0000ff"/>
<path d="M207.4,825.1V834.1M204.1,825.1H210.7M204.1,834.1H210.7" stroke="#0000ff" stroke-width="1.6" fill="none"/>
<circle cx="207.4" cy="829.1" r="3.65" fill="#0000ff"/>
<path d="M226.7,811.8V826.5M223.4,811.8H230M223.4,826.5H230" stroke="#0000ff" stroke-width="1.6" fill="none"/>
<circle cx="226.7" cy="819.8" r="3.65" fill="#0000ff"/>
<path d="M246.6,741V754.2M243.3,741H249.9M243.3,754.2H249.9" stroke="#0000ff" stroke-width="1.6" fill="none"/>
<circle cx="246.6" cy="747.6" r="3.65" fill="#0000ff"/>
<circle cx="265.9" cy="729.7" r="3.65" fill="#0000ff"/>
<circle cx="285.3" cy="699.9" r="3.65" fill="#0000ff"/>
</svg></body></html>
